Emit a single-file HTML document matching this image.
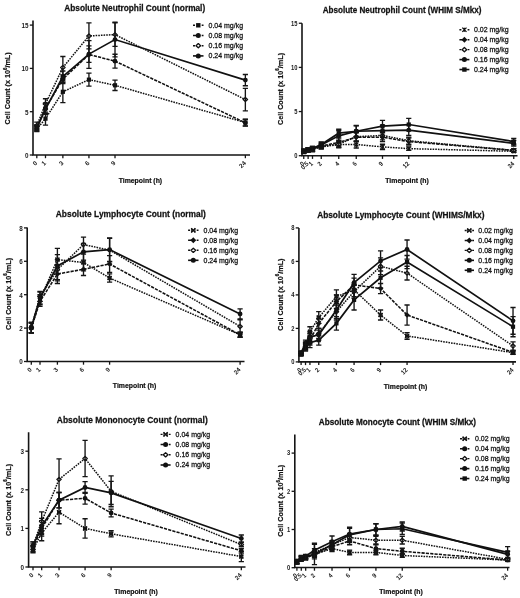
<!DOCTYPE html>
<html><head><meta charset="utf-8"><style>
html,body{margin:0;padding:0;background:#fff;}
svg{display:block;will-change:transform;}
text{font-family:"Liberation Sans", sans-serif;}
</style></head><body>
<svg width="520" height="598" viewBox="0 0 520 598" font-family='"Liberation Sans", sans-serif'>
<rect width="520" height="598" fill="#fff"/>
<path d="M33 20.5V155H250" fill="none" stroke="#151515" stroke-width="1.6"/>
<path d="M29.8 155H33" stroke="#151515" stroke-width="1.3"/>
<text transform="translate(28.5 157.86) scale(1 1.0)" text-anchor="end" font-size="6.3" font-weight="bold" fill="#1a1a1a">0</text>
<path d="M29.8 111.7H33" stroke="#151515" stroke-width="1.3"/>
<text transform="translate(28.5 114.56) scale(1 1.0)" text-anchor="end" font-size="6.3" font-weight="bold" fill="#1a1a1a">5</text>
<path d="M29.8 68.4H33" stroke="#151515" stroke-width="1.3"/>
<text transform="translate(28.5 71.26) scale(1 1.0)" text-anchor="end" font-size="6.3" font-weight="bold" fill="#1a1a1a">10</text>
<path d="M29.8 25.1H33" stroke="#151515" stroke-width="1.3"/>
<text transform="translate(28.5 27.96) scale(1 1.0)" text-anchor="end" font-size="6.3" font-weight="bold" fill="#1a1a1a">15</text>
<path d="M36.8 155V158.2" stroke="#151515" stroke-width="1.3"/>
<text transform="translate(37.8 163.5) rotate(-45) scale(1 1.0)" text-anchor="end" font-size="6.3" font-weight="bold" fill="#1a1a1a">0</text>
<path d="M45.49 155V158.2" stroke="#151515" stroke-width="1.3"/>
<text transform="translate(46.49 163.5) rotate(-45) scale(1 1.0)" text-anchor="end" font-size="6.3" font-weight="bold" fill="#1a1a1a">1</text>
<path d="M62.87 155V158.2" stroke="#151515" stroke-width="1.3"/>
<text transform="translate(63.87 163.5) rotate(-45) scale(1 1.0)" text-anchor="end" font-size="6.3" font-weight="bold" fill="#1a1a1a">3</text>
<path d="M88.94 155V158.2" stroke="#151515" stroke-width="1.3"/>
<text transform="translate(89.94 163.5) rotate(-45) scale(1 1.0)" text-anchor="end" font-size="6.3" font-weight="bold" fill="#1a1a1a">6</text>
<path d="M115.01 155V158.2" stroke="#151515" stroke-width="1.3"/>
<text transform="translate(116.01 163.5) rotate(-45) scale(1 1.0)" text-anchor="end" font-size="6.3" font-weight="bold" fill="#1a1a1a">9</text>
<path d="M245.36 155V158.2" stroke="#151515" stroke-width="1.3"/>
<text transform="translate(246.36 163.5) rotate(-45) scale(1 1.0)" text-anchor="end" font-size="6.3" font-weight="bold" fill="#1a1a1a">24</text>
<text transform="translate(134.75 10.6) scale(0.926 1)" text-anchor="middle" font-size="8.96" font-weight="bold" fill="#111" stroke="#111" stroke-width="0.25">Absolute Neutrophil Count (normal)</text>
<text transform="translate(140.4 182.5) scale(0.97 1.07)" text-anchor="middle" font-size="7.1" font-weight="bold" fill="#111" stroke="#111" stroke-width="0.2">Timepoint (h)</text>
<text transform="translate(10.1 88.4) rotate(-90) scale(0.925 1)" text-anchor="middle" font-size="7.8" font-weight="bold" fill="#111" stroke="#111" stroke-width="0.2">Cell Count (x 10<tspan font-size="4.84" dy="-3.4">6</tspan><tspan dy="3.4">/mL)</tspan></text>
<path d="M36.8 129.02L45.49 118.63L62.87 91.78L88.94 79.66L115.01 85.29L245.36 122.53" fill="none" stroke="#111" stroke-width="1.5" stroke-dasharray="1.6 1.05"/>
<rect x="34.7" y="126.92" width="4.2" height="4.2" fill="#111"/>
<rect x="43.39" y="116.53" width="4.2" height="4.2" fill="#111"/>
<rect x="60.77" y="89.68" width="4.2" height="4.2" fill="#111"/>
<rect x="86.84" y="77.56" width="4.2" height="4.2" fill="#111"/>
<rect x="112.91" y="83.19" width="4.2" height="4.2" fill="#111"/>
<rect x="243.26" y="120.43" width="4.2" height="4.2" fill="#111"/>
<path d="M36.8 126.42V131.62M34.2 126.42H39.4M34.2 131.62H39.4" stroke="#151515" stroke-width="1.35" fill="none"/>
<path d="M45.49 112.13V125.12M42.89 112.13H48.09M42.89 125.12H48.09" stroke="#151515" stroke-width="1.35" fill="none"/>
<path d="M62.87 80.87V102.69M60.27 80.87H65.47M60.27 102.69H65.47" stroke="#151515" stroke-width="1.35" fill="none"/>
<path d="M88.94 73.16V86.15M86.34 73.16H91.54M86.34 86.15H91.54" stroke="#151515" stroke-width="1.35" fill="none"/>
<path d="M115.01 80.09V90.48M112.41 80.09H117.61M112.41 90.48H117.61" stroke="#151515" stroke-width="1.35" fill="none"/>
<path d="M245.36 119.23V125.82M242.76 119.23H247.96M242.76 125.82H247.96" stroke="#151515" stroke-width="1.35" fill="none"/>
<path d="M36.8 127.29L45.49 108.24L62.87 79.14L88.94 54.54L115.01 61.13L245.36 122.78" fill="none" stroke="#111" stroke-width="1.55" stroke-dasharray="3.2 1.15"/>
<circle cx="36.8" cy="127.29" r="2.4" fill="#111"/>
<circle cx="45.49" cy="108.24" r="2.4" fill="#111"/>
<circle cx="62.87" cy="79.14" r="2.4" fill="#111"/>
<circle cx="88.94" cy="54.54" r="2.4" fill="#111"/>
<circle cx="115.01" cy="61.13" r="2.4" fill="#111"/>
<circle cx="245.36" cy="122.78" r="2.4" fill="#111"/>
<path d="M36.8 124.69V129.89M34.2 124.69H39.4M34.2 129.89H39.4" stroke="#151515" stroke-width="1.35" fill="none"/>
<path d="M45.49 103.04V113.43M42.89 103.04H48.09M42.89 113.43H48.09" stroke="#151515" stroke-width="1.35" fill="none"/>
<path d="M62.87 74.81V83.47M60.27 74.81H65.47M60.27 83.47H65.47" stroke="#151515" stroke-width="1.35" fill="none"/>
<path d="M88.94 40.69V68.4M86.34 40.69H91.54M86.34 68.4H91.54" stroke="#151515" stroke-width="1.35" fill="none"/>
<path d="M115.01 54.2V68.05M112.41 54.2H117.61M112.41 68.05H117.61" stroke="#151515" stroke-width="1.35" fill="none"/>
<path d="M245.36 119.49V126.08M242.76 119.49H247.96M242.76 126.08H247.96" stroke="#151515" stroke-width="1.35" fill="none"/>
<path d="M36.8 125.56L45.49 103.91L62.87 67.53L88.94 35.92L115.01 34.63L245.36 99.58" fill="none" stroke="#111" stroke-width="1.5" stroke-dasharray="1.6 1.05"/>
<path d="M36.8 123.56L39 125.56L36.8 127.56L34.6 125.56Z" fill="#fff" stroke="#111" stroke-width="1.3" stroke-linejoin="round"/>
<path d="M45.49 101.91L47.69 103.91L45.49 105.91L43.29 103.91Z" fill="#fff" stroke="#111" stroke-width="1.3" stroke-linejoin="round"/>
<path d="M62.87 65.53L65.07 67.53L62.87 69.53L60.67 67.53Z" fill="#fff" stroke="#111" stroke-width="1.3" stroke-linejoin="round"/>
<path d="M88.94 33.92L91.14 35.92L88.94 37.92L86.74 35.92Z" fill="#fff" stroke="#111" stroke-width="1.3" stroke-linejoin="round"/>
<path d="M115.01 32.63L117.21 34.63L115.01 36.63L112.81 34.63Z" fill="#fff" stroke="#111" stroke-width="1.3" stroke-linejoin="round"/>
<path d="M245.36 97.58L247.56 99.58L245.36 101.58L243.16 99.58Z" fill="#fff" stroke="#111" stroke-width="1.3" stroke-linejoin="round"/>
<path d="M36.8 122.09V129.02M34.2 122.09H39.4M34.2 129.02H39.4" stroke="#151515" stroke-width="1.35" fill="none"/>
<path d="M45.49 98.71V109.1M42.89 98.71H48.09M42.89 109.1H48.09" stroke="#151515" stroke-width="1.35" fill="none"/>
<path d="M62.87 56.54V78.53M60.27 56.54H65.47M60.27 78.53H65.47" stroke="#151515" stroke-width="1.35" fill="none"/>
<path d="M88.94 22.94V48.91M86.34 22.94H91.54M86.34 48.91H91.54" stroke="#151515" stroke-width="1.35" fill="none"/>
<path d="M115.01 22.85V46.4M112.41 22.85H117.61M112.41 46.4H117.61" stroke="#151515" stroke-width="1.35" fill="none"/>
<path d="M245.36 88.32V110.83M242.76 88.32H247.96M242.76 110.83H247.96" stroke="#151515" stroke-width="1.35" fill="none"/>
<path d="M36.8 128.15L45.49 109.1L62.87 76.63L88.94 54.11L115.01 39.56L245.36 80.09" fill="none" stroke="#111" stroke-width="1.7" />
<circle cx="36.8" cy="128.15" r="2.4" fill="#111"/>
<circle cx="45.49" cy="109.1" r="2.4" fill="#111"/>
<circle cx="62.87" cy="76.63" r="2.4" fill="#111"/>
<circle cx="88.94" cy="54.11" r="2.4" fill="#111"/>
<circle cx="115.01" cy="39.56" r="2.4" fill="#111"/>
<circle cx="245.36" cy="80.09" r="2.4" fill="#111"/>
<path d="M36.8 125.56V130.75M34.2 125.56H39.4M34.2 130.75H39.4" stroke="#151515" stroke-width="1.35" fill="none"/>
<path d="M45.49 103.91V114.3M42.89 103.91H48.09M42.89 114.3H48.09" stroke="#151515" stroke-width="1.35" fill="none"/>
<path d="M62.87 71V82.26M60.27 71H65.47M60.27 82.26H65.47" stroke="#151515" stroke-width="1.35" fill="none"/>
<path d="M88.94 45.88V62.34M86.34 45.88H91.54M86.34 62.34H91.54" stroke="#151515" stroke-width="1.35" fill="none"/>
<path d="M115.01 22.24V56.88M112.41 22.24H117.61M112.41 56.88H117.61" stroke="#151515" stroke-width="1.35" fill="none"/>
<path d="M245.36 74.46V85.72M242.76 74.46H247.96M242.76 85.72H247.96" stroke="#151515" stroke-width="1.35" fill="none"/>
<path d="M193 25.3H195M201.7 25.3H203.5" stroke="#111" stroke-width="1.4"/>
<rect x="196.09" y="23.09" width="4.41" height="4.41" fill="#111"/>
<text transform="translate(208.5 27.65) scale(1 1.12)" font-size="7.0" fill="#111" stroke="#111" stroke-width="0.25">0.04 mg/kg</text>
<path d="M193 35.5H198.3M201.7 35.5H203.5" stroke="#111" stroke-width="1.5"/>
<circle cx="198.3" cy="35.5" r="2.52" fill="#111"/>
<text transform="translate(208.5 37.85) scale(1 1.12)" font-size="7.0" fill="#111" stroke="#111" stroke-width="0.25">0.08 mg/kg</text>
<path d="M193 45.7H195M201.7 45.7H203.5" stroke="#111" stroke-width="1.4"/>
<path d="M198.3 43.6L200.61 45.7L198.3 47.8L195.99 45.7Z" fill="#fff" stroke="#111" stroke-width="1.3" stroke-linejoin="round"/>
<text transform="translate(208.5 48.05) scale(1 1.12)" font-size="7.0" fill="#111" stroke="#111" stroke-width="0.25">0.16 mg/kg</text>
<path d="M193 55.9H203.5" stroke="#111" stroke-width="1.6"/>
<circle cx="198.3" cy="55.9" r="2.52" fill="#111"/>
<text transform="translate(208.5 58.25) scale(1 1.12)" font-size="7.0" fill="#111" stroke="#111" stroke-width="0.25">0.24 mg/kg</text>
<path d="M302 23.2V155.7H517.5" fill="none" stroke="#151515" stroke-width="1.6"/>
<path d="M298.8 155.7H302" stroke="#151515" stroke-width="1.3"/>
<text transform="translate(297.5 158.03) scale(1 1.12)" text-anchor="end" font-size="5.8" font-weight="bold" fill="#1a1a1a">0</text>
<path d="M298.8 111.55H302" stroke="#151515" stroke-width="1.3"/>
<text transform="translate(297.5 113.88) scale(1 1.12)" text-anchor="end" font-size="5.8" font-weight="bold" fill="#1a1a1a">5</text>
<path d="M298.8 67.4H302" stroke="#151515" stroke-width="1.3"/>
<text transform="translate(297.5 69.73) scale(1 1.12)" text-anchor="end" font-size="5.8" font-weight="bold" fill="#1a1a1a">10</text>
<path d="M298.8 23.25H302" stroke="#151515" stroke-width="1.3"/>
<text transform="translate(297.5 25.58) scale(1 1.12)" text-anchor="end" font-size="5.8" font-weight="bold" fill="#1a1a1a">15</text>
<path d="M303.75 155.7V158.9" stroke="#151515" stroke-width="1.3"/>
<text transform="translate(304.75 164.2) rotate(-45) scale(1 1.12)" text-anchor="end" font-size="5.8" font-weight="bold" fill="#1a1a1a">0</text>
<path d="M308.12 155.7V158.9" stroke="#151515" stroke-width="1.3"/>
<text transform="translate(309.12 164.2) rotate(-45) scale(1 1.12)" text-anchor="end" font-size="5.8" font-weight="bold" fill="#1a1a1a">0.5</text>
<path d="M312.5 155.7V158.9" stroke="#151515" stroke-width="1.3"/>
<text transform="translate(313.5 164.2) rotate(-45) scale(1 1.12)" text-anchor="end" font-size="5.8" font-weight="bold" fill="#1a1a1a">1</text>
<path d="M321.25 155.7V158.9" stroke="#151515" stroke-width="1.3"/>
<text transform="translate(322.25 164.2) rotate(-45) scale(1 1.12)" text-anchor="end" font-size="5.8" font-weight="bold" fill="#1a1a1a">2</text>
<path d="M338.75 155.7V158.9" stroke="#151515" stroke-width="1.3"/>
<text transform="translate(339.75 164.2) rotate(-45) scale(1 1.12)" text-anchor="end" font-size="5.8" font-weight="bold" fill="#1a1a1a">4</text>
<path d="M356.25 155.7V158.9" stroke="#151515" stroke-width="1.3"/>
<text transform="translate(357.25 164.2) rotate(-45) scale(1 1.12)" text-anchor="end" font-size="5.8" font-weight="bold" fill="#1a1a1a">6</text>
<path d="M382.5 155.7V158.9" stroke="#151515" stroke-width="1.3"/>
<text transform="translate(383.5 164.2) rotate(-45) scale(1 1.12)" text-anchor="end" font-size="5.8" font-weight="bold" fill="#1a1a1a">9</text>
<path d="M408.75 155.7V158.9" stroke="#151515" stroke-width="1.3"/>
<text transform="translate(409.75 164.2) rotate(-45) scale(1 1.12)" text-anchor="end" font-size="5.8" font-weight="bold" fill="#1a1a1a">12</text>
<path d="M513.75 155.7V158.9" stroke="#151515" stroke-width="1.3"/>
<text transform="translate(514.75 164.2) rotate(-45) scale(1 1.12)" text-anchor="end" font-size="5.8" font-weight="bold" fill="#1a1a1a">24</text>
<text transform="translate(402 12.9) scale(0.926 1)" text-anchor="middle" font-size="8.75" font-weight="bold" fill="#111" stroke="#111" stroke-width="0.25">Absolute Neutrophil Count (WHIM S/Mkx)</text>
<text transform="translate(407 182.5) scale(0.97 1.07)" text-anchor="middle" font-size="7.1" font-weight="bold" fill="#111" stroke="#111" stroke-width="0.2">Timepoint (h)</text>
<text transform="translate(282.5 89) rotate(-90) scale(0.925 1)" text-anchor="middle" font-size="7.8" font-weight="bold" fill="#111" stroke="#111" stroke-width="0.2">Cell Count (x 10<tspan font-size="4.84" dy="-3.4">6</tspan><tspan dy="3.4">/mL)</tspan></text>
<path d="M303.75 151.73L308.12 150.4L312.5 149.52L321.25 146.87L338.75 144.66L356.25 144.49L382.5 146.87L408.75 148.64L513.75 151.28" fill="none" stroke="#111" stroke-width="1.5" stroke-dasharray="1.6 1.05"/>
<path d="M301.75 149.73L305.75 153.73M305.75 149.73L301.75 153.73M303.75 149.73L303.75 153.73" stroke="#111" stroke-width="1.3"/>
<path d="M306.12 148.4L310.12 152.4M310.12 148.4L306.12 152.4M308.12 148.4L308.12 152.4" stroke="#111" stroke-width="1.3"/>
<path d="M310.5 147.52L314.5 151.52M314.5 147.52L310.5 151.52M312.5 147.52L312.5 151.52" stroke="#111" stroke-width="1.3"/>
<path d="M319.25 144.87L323.25 148.87M323.25 144.87L319.25 148.87M321.25 144.87L321.25 148.87" stroke="#111" stroke-width="1.3"/>
<path d="M336.75 142.66L340.75 146.66M340.75 142.66L336.75 146.66M338.75 142.66L338.75 146.66" stroke="#111" stroke-width="1.3"/>
<path d="M354.25 142.49L358.25 146.49M358.25 142.49L354.25 146.49M356.25 142.49L356.25 146.49" stroke="#111" stroke-width="1.3"/>
<path d="M380.5 144.87L384.5 148.87M384.5 144.87L380.5 148.87M382.5 144.87L382.5 148.87" stroke="#111" stroke-width="1.3"/>
<path d="M406.75 146.64L410.75 150.64M410.75 146.64L406.75 150.64M408.75 146.64L408.75 150.64" stroke="#111" stroke-width="1.3"/>
<path d="M511.75 149.28L515.75 153.28M515.75 149.28L511.75 153.28M513.75 149.28L513.75 153.28" stroke="#111" stroke-width="1.3"/>
<path d="M303.75 149.96V153.49M301.15 149.96H306.35M301.15 153.49H306.35" stroke="#151515" stroke-width="1.35" fill="none"/>
<path d="M308.12 148.64V152.17M305.52 148.64H310.73M305.52 152.17H310.73" stroke="#151515" stroke-width="1.35" fill="none"/>
<path d="M312.5 147.31V151.73M309.9 147.31H315.1M309.9 151.73H315.1" stroke="#151515" stroke-width="1.35" fill="none"/>
<path d="M321.25 144.66V149.08M318.65 144.66H323.85M318.65 149.08H323.85" stroke="#151515" stroke-width="1.35" fill="none"/>
<path d="M338.75 142.01V147.31M336.15 142.01H341.35M336.15 147.31H341.35" stroke="#151515" stroke-width="1.35" fill="none"/>
<path d="M356.25 140.95V148.02M353.65 140.95H358.85M353.65 148.02H358.85" stroke="#151515" stroke-width="1.35" fill="none"/>
<path d="M382.5 144.22V149.52M379.9 144.22H385.1M379.9 149.52H385.1" stroke="#151515" stroke-width="1.35" fill="none"/>
<path d="M408.75 146.87V150.4M406.15 146.87H411.35M406.15 150.4H411.35" stroke="#151515" stroke-width="1.35" fill="none"/>
<path d="M513.75 150.4V152.17M511.15 150.4H516.35M511.15 152.17H516.35" stroke="#151515" stroke-width="1.35" fill="none"/>
<path d="M303.75 151.28L308.12 149.96L312.5 149.08L321.25 145.99L338.75 142.45L356.25 137.16L382.5 137.16L408.75 141.57L513.75 150.4" fill="none" stroke="#111" stroke-width="1.55" stroke-dasharray="3.2 1.15"/>
<path d="M303.75 148.48L306.55 151.28L303.75 154.09L300.95 151.28Z" fill="#111"/>
<path d="M308.12 147.16L310.93 149.96L308.12 152.76L305.32 149.96Z" fill="#111"/>
<path d="M312.5 146.28L315.3 149.08L312.5 151.88L309.7 149.08Z" fill="#111"/>
<path d="M321.25 143.19L324.05 145.99L321.25 148.79L318.45 145.99Z" fill="#111"/>
<path d="M338.75 139.65L341.55 142.45L338.75 145.25L335.95 142.45Z" fill="#111"/>
<path d="M356.25 134.36L359.05 137.16L356.25 139.96L353.45 137.16Z" fill="#111"/>
<path d="M382.5 134.36L385.3 137.16L382.5 139.96L379.7 137.16Z" fill="#111"/>
<path d="M408.75 138.77L411.55 141.57L408.75 144.37L405.95 141.57Z" fill="#111"/>
<path d="M513.75 147.6L516.55 150.4L513.75 153.2L510.95 150.4Z" fill="#111"/>
<path d="M303.75 149.52V153.05M301.15 149.52H306.35M301.15 153.05H306.35" stroke="#151515" stroke-width="1.35" fill="none"/>
<path d="M308.12 148.19V151.73M305.52 148.19H310.73M305.52 151.73H310.73" stroke="#151515" stroke-width="1.35" fill="none"/>
<path d="M312.5 146.87V151.28M309.9 146.87H315.1M309.9 151.28H315.1" stroke="#151515" stroke-width="1.35" fill="none"/>
<path d="M321.25 143.78V148.19M318.65 143.78H323.85M318.65 148.19H323.85" stroke="#151515" stroke-width="1.35" fill="none"/>
<path d="M338.75 138.92V145.99M336.15 138.92H341.35M336.15 145.99H341.35" stroke="#151515" stroke-width="1.35" fill="none"/>
<path d="M356.25 132.74V141.57M353.65 132.74H358.85M353.65 141.57H358.85" stroke="#151515" stroke-width="1.35" fill="none"/>
<path d="M382.5 132.74V141.57M379.9 132.74H385.1M379.9 141.57H385.1" stroke="#151515" stroke-width="1.35" fill="none"/>
<path d="M408.75 138.04V145.1M406.15 138.04H411.35M406.15 145.1H411.35" stroke="#151515" stroke-width="1.35" fill="none"/>
<path d="M513.75 148.64V152.17M511.15 148.64H516.35M511.15 152.17H516.35" stroke="#151515" stroke-width="1.35" fill="none"/>
<path d="M303.75 151.28L308.12 149.96L312.5 149.08L321.25 146.25L338.75 144.22L356.25 136.72L382.5 135.39L408.75 140.69L513.75 150.4" fill="none" stroke="#111" stroke-width="1.5" stroke-dasharray="1.6 1.05"/>
<path d="M303.75 149.28L305.95 151.28L303.75 153.28L301.55 151.28Z" fill="#fff" stroke="#111" stroke-width="1.3" stroke-linejoin="round"/>
<path d="M308.12 147.96L310.32 149.96L308.12 151.96L305.93 149.96Z" fill="#fff" stroke="#111" stroke-width="1.3" stroke-linejoin="round"/>
<path d="M312.5 147.08L314.7 149.08L312.5 151.08L310.3 149.08Z" fill="#fff" stroke="#111" stroke-width="1.3" stroke-linejoin="round"/>
<path d="M321.25 144.25L323.45 146.25L321.25 148.25L319.05 146.25Z" fill="#fff" stroke="#111" stroke-width="1.3" stroke-linejoin="round"/>
<path d="M338.75 142.22L340.95 144.22L338.75 146.22L336.55 144.22Z" fill="#fff" stroke="#111" stroke-width="1.3" stroke-linejoin="round"/>
<path d="M356.25 134.72L358.45 136.72L356.25 138.72L354.05 136.72Z" fill="#fff" stroke="#111" stroke-width="1.3" stroke-linejoin="round"/>
<path d="M382.5 133.39L384.7 135.39L382.5 137.39L380.3 135.39Z" fill="#fff" stroke="#111" stroke-width="1.3" stroke-linejoin="round"/>
<path d="M408.75 138.69L410.95 140.69L408.75 142.69L406.55 140.69Z" fill="#fff" stroke="#111" stroke-width="1.3" stroke-linejoin="round"/>
<path d="M513.75 148.4L515.95 150.4L513.75 152.4L511.55 150.4Z" fill="#fff" stroke="#111" stroke-width="1.3" stroke-linejoin="round"/>
<path d="M303.75 149.52V153.05M301.15 149.52H306.35M301.15 153.05H306.35" stroke="#151515" stroke-width="1.35" fill="none"/>
<path d="M308.12 148.19V151.73M305.52 148.19H310.73M305.52 151.73H310.73" stroke="#151515" stroke-width="1.35" fill="none"/>
<path d="M312.5 146.87V151.28M309.9 146.87H315.1M309.9 151.28H315.1" stroke="#151515" stroke-width="1.35" fill="none"/>
<path d="M321.25 144.04V148.46M318.65 144.04H323.85M318.65 148.46H323.85" stroke="#151515" stroke-width="1.35" fill="none"/>
<path d="M338.75 140.69V147.75M336.15 140.69H341.35M336.15 147.75H341.35" stroke="#151515" stroke-width="1.35" fill="none"/>
<path d="M356.25 132.3V141.13M353.65 132.3H358.85M353.65 141.13H358.85" stroke="#151515" stroke-width="1.35" fill="none"/>
<path d="M382.5 130.98V139.81M379.9 130.98H385.1M379.9 139.81H385.1" stroke="#151515" stroke-width="1.35" fill="none"/>
<path d="M408.75 137.16V144.22M406.15 137.16H411.35M406.15 144.22H411.35" stroke="#151515" stroke-width="1.35" fill="none"/>
<path d="M513.75 148.64V152.17M511.15 148.64H516.35M511.15 152.17H516.35" stroke="#151515" stroke-width="1.35" fill="none"/>
<path d="M303.75 151.28L308.12 149.52L312.5 148.64L321.25 145.1L338.75 135.83L356.25 131.24L382.5 130.53L408.75 130.09L513.75 143.34" fill="none" stroke="#111" stroke-width="1.7" />
<circle cx="303.75" cy="151.28" r="2.4" fill="#111"/>
<circle cx="308.12" cy="149.52" r="2.4" fill="#111"/>
<circle cx="312.5" cy="148.64" r="2.4" fill="#111"/>
<circle cx="321.25" cy="145.1" r="2.4" fill="#111"/>
<circle cx="338.75" cy="135.83" r="2.4" fill="#111"/>
<circle cx="356.25" cy="131.24" r="2.4" fill="#111"/>
<circle cx="382.5" cy="130.53" r="2.4" fill="#111"/>
<circle cx="408.75" cy="130.09" r="2.4" fill="#111"/>
<circle cx="513.75" cy="143.34" r="2.4" fill="#111"/>
<path d="M303.75 149.52V153.05M301.15 149.52H306.35M301.15 153.05H306.35" stroke="#151515" stroke-width="1.35" fill="none"/>
<path d="M308.12 147.75V151.28M305.52 147.75H310.73M305.52 151.28H310.73" stroke="#151515" stroke-width="1.35" fill="none"/>
<path d="M312.5 146.43V150.84M309.9 146.43H315.1M309.9 150.84H315.1" stroke="#151515" stroke-width="1.35" fill="none"/>
<path d="M321.25 142.45V147.75M318.65 142.45H323.85M318.65 147.75H323.85" stroke="#151515" stroke-width="1.35" fill="none"/>
<path d="M338.75 130.53V141.13M336.15 130.53H341.35M336.15 141.13H341.35" stroke="#151515" stroke-width="1.35" fill="none"/>
<path d="M356.25 125.94V136.54M353.65 125.94H358.85M353.65 136.54H358.85" stroke="#151515" stroke-width="1.35" fill="none"/>
<path d="M382.5 125.24V135.83M379.9 125.24H385.1M379.9 135.83H385.1" stroke="#151515" stroke-width="1.35" fill="none"/>
<path d="M408.75 124.79V135.39M406.15 124.79H411.35M406.15 135.39H411.35" stroke="#151515" stroke-width="1.35" fill="none"/>
<path d="M513.75 140.69V145.99M511.15 140.69H516.35M511.15 145.99H516.35" stroke="#151515" stroke-width="1.35" fill="none"/>
<path d="M303.75 150.84L308.12 149.52L312.5 148.64L321.25 144.49L338.75 133.18L356.25 131.24L382.5 126.12L408.75 124.53L513.75 141.57" fill="none" stroke="#111" stroke-width="1.7" />
<rect x="301.65" y="148.74" width="4.2" height="4.2" fill="#111"/>
<rect x="306.02" y="147.42" width="4.2" height="4.2" fill="#111"/>
<rect x="310.4" y="146.54" width="4.2" height="4.2" fill="#111"/>
<rect x="319.15" y="142.39" width="4.2" height="4.2" fill="#111"/>
<rect x="336.65" y="131.08" width="4.2" height="4.2" fill="#111"/>
<rect x="354.15" y="129.14" width="4.2" height="4.2" fill="#111"/>
<rect x="380.4" y="124.02" width="4.2" height="4.2" fill="#111"/>
<rect x="406.65" y="122.43" width="4.2" height="4.2" fill="#111"/>
<rect x="511.65" y="139.47" width="4.2" height="4.2" fill="#111"/>
<path d="M303.75 149.08V152.61M301.15 149.08H306.35M301.15 152.61H306.35" stroke="#151515" stroke-width="1.35" fill="none"/>
<path d="M308.12 147.75V151.28M305.52 147.75H310.73M305.52 151.28H310.73" stroke="#151515" stroke-width="1.35" fill="none"/>
<path d="M312.5 146.43V150.84M309.9 146.43H315.1M309.9 150.84H315.1" stroke="#151515" stroke-width="1.35" fill="none"/>
<path d="M321.25 141.84V147.13M318.65 141.84H323.85M318.65 147.13H323.85" stroke="#151515" stroke-width="1.35" fill="none"/>
<path d="M338.75 129.21V137.16M336.15 129.21H341.35M336.15 137.16H341.35" stroke="#151515" stroke-width="1.35" fill="none"/>
<path d="M356.25 125.5V136.98M353.65 125.5H358.85M353.65 136.98H358.85" stroke="#151515" stroke-width="1.35" fill="none"/>
<path d="M382.5 120.38V131.86M379.9 120.38H385.1M379.9 131.86H385.1" stroke="#151515" stroke-width="1.35" fill="none"/>
<path d="M408.75 118.35V130.71M406.15 118.35H411.35M406.15 130.71H411.35" stroke="#151515" stroke-width="1.35" fill="none"/>
<path d="M513.75 138.48V144.66M511.15 138.48H516.35M511.15 144.66H516.35" stroke="#151515" stroke-width="1.35" fill="none"/>
<path d="M459.4 29.75H461.4M467.6 29.75H469.4" stroke="#111" stroke-width="1.4"/>
<path d="M462.3 27.65L466.5 31.85M466.5 27.65L462.3 31.85M464.4 27.65L464.4 31.85" stroke="#111" stroke-width="1.3"/>
<text transform="translate(474 32.1) scale(1 1.12)" font-size="7.0" fill="#111" stroke="#111" stroke-width="0.25">0.02 mg/kg</text>
<path d="M459.4 39.7H464.4M467.6 39.7H469.4" stroke="#111" stroke-width="1.5"/>
<path d="M464.4 36.76L467.34 39.7L464.4 42.64L461.46 39.7Z" fill="#111"/>
<text transform="translate(474 42.05) scale(1 1.12)" font-size="7.0" fill="#111" stroke="#111" stroke-width="0.25">0.04 mg/kg</text>
<path d="M459.4 49.65H461.4M467.6 49.65H469.4" stroke="#111" stroke-width="1.4"/>
<path d="M464.4 47.55L466.71 49.65L464.4 51.75L462.09 49.65Z" fill="#fff" stroke="#111" stroke-width="1.3" stroke-linejoin="round"/>
<text transform="translate(474 52) scale(1 1.12)" font-size="7.0" fill="#111" stroke="#111" stroke-width="0.25">0.08 mg/kg</text>
<path d="M459.4 59.6H469.4" stroke="#111" stroke-width="1.6"/>
<circle cx="464.4" cy="59.6" r="2.52" fill="#111"/>
<text transform="translate(474 61.95) scale(1 1.12)" font-size="7.0" fill="#111" stroke="#111" stroke-width="0.25">0.16 mg/kg</text>
<path d="M459.4 69.55H469.4" stroke="#111" stroke-width="1.6"/>
<rect x="462.19" y="67.34" width="4.41" height="4.41" fill="#111"/>
<text transform="translate(474 71.9) scale(1 1.12)" font-size="7.0" fill="#111" stroke="#111" stroke-width="0.25">0.24 mg/kg</text>
<path d="M27.2 227.6V361.5H244.5" fill="none" stroke="#151515" stroke-width="1.6"/>
<path d="M24 361.5H27.2" stroke="#151515" stroke-width="1.3"/>
<text transform="translate(22.7 364.36) scale(1 1.0)" text-anchor="end" font-size="6.3" font-weight="bold" fill="#1a1a1a">0</text>
<path d="M24 328.1H27.2" stroke="#151515" stroke-width="1.3"/>
<text transform="translate(22.7 330.96) scale(1 1.0)" text-anchor="end" font-size="6.3" font-weight="bold" fill="#1a1a1a">2</text>
<path d="M24 294.7H27.2" stroke="#151515" stroke-width="1.3"/>
<text transform="translate(22.7 297.56) scale(1 1.0)" text-anchor="end" font-size="6.3" font-weight="bold" fill="#1a1a1a">4</text>
<path d="M24 261.3H27.2" stroke="#151515" stroke-width="1.3"/>
<text transform="translate(22.7 264.16) scale(1 1.0)" text-anchor="end" font-size="6.3" font-weight="bold" fill="#1a1a1a">6</text>
<path d="M24 227.9H27.2" stroke="#151515" stroke-width="1.3"/>
<text transform="translate(22.7 230.76) scale(1 1.0)" text-anchor="end" font-size="6.3" font-weight="bold" fill="#1a1a1a">8</text>
<path d="M31.3 361.5V364.7" stroke="#151515" stroke-width="1.3"/>
<text transform="translate(32.3 370) rotate(-45) scale(1 1.0)" text-anchor="end" font-size="6.3" font-weight="bold" fill="#1a1a1a">0</text>
<path d="M40 361.5V364.7" stroke="#151515" stroke-width="1.3"/>
<text transform="translate(41 370) rotate(-45) scale(1 1.0)" text-anchor="end" font-size="6.3" font-weight="bold" fill="#1a1a1a">1</text>
<path d="M57.4 361.5V364.7" stroke="#151515" stroke-width="1.3"/>
<text transform="translate(58.4 370) rotate(-45) scale(1 1.0)" text-anchor="end" font-size="6.3" font-weight="bold" fill="#1a1a1a">3</text>
<path d="M83.5 361.5V364.7" stroke="#151515" stroke-width="1.3"/>
<text transform="translate(84.5 370) rotate(-45) scale(1 1.0)" text-anchor="end" font-size="6.3" font-weight="bold" fill="#1a1a1a">6</text>
<path d="M109.6 361.5V364.7" stroke="#151515" stroke-width="1.3"/>
<text transform="translate(110.6 370) rotate(-45) scale(1 1.0)" text-anchor="end" font-size="6.3" font-weight="bold" fill="#1a1a1a">9</text>
<path d="M240.1 361.5V364.7" stroke="#151515" stroke-width="1.3"/>
<text transform="translate(241.1 370) rotate(-45) scale(1 1.0)" text-anchor="end" font-size="6.3" font-weight="bold" fill="#1a1a1a">24</text>
<text transform="translate(130.85 216.6) scale(0.926 1)" text-anchor="middle" font-size="9.09" font-weight="bold" fill="#111" stroke="#111" stroke-width="0.25">Absolute Lymphocyte Count (normal)</text>
<text transform="translate(134.6 388) scale(0.97 1.07)" text-anchor="middle" font-size="7.1" font-weight="bold" fill="#111" stroke="#111" stroke-width="0.2">Timepoint (h)</text>
<text transform="translate(10.5 294) rotate(-90) scale(0.925 1)" text-anchor="middle" font-size="7.8" font-weight="bold" fill="#111" stroke="#111" stroke-width="0.2">Cell Count (x 10<tspan font-size="4.84" dy="-3.4">6</tspan><tspan dy="3.4">/mL)</tspan></text>
<path d="M31.3 327.77L40 299.71L57.4 259.63L83.5 262.47L109.6 278L240.1 334.78" fill="none" stroke="#111" stroke-width="1.5" stroke-dasharray="1.6 1.05"/>
<path d="M29.3 325.77L33.3 329.77M33.3 325.77L29.3 329.77" stroke="#111" stroke-width="1.4"/><rect x="29.3" y="325.77" width="1" height="4" fill="#111"/><rect x="32.3" y="325.77" width="1" height="4" fill="#111"/>
<path d="M38 297.71L42 301.71M42 297.71L38 301.71" stroke="#111" stroke-width="1.4"/><rect x="38" y="297.71" width="1" height="4" fill="#111"/><rect x="41" y="297.71" width="1" height="4" fill="#111"/>
<path d="M55.4 257.63L59.4 261.63M59.4 257.63L55.4 261.63" stroke="#111" stroke-width="1.4"/><rect x="55.4" y="257.63" width="1" height="4" fill="#111"/><rect x="58.4" y="257.63" width="1" height="4" fill="#111"/>
<path d="M81.5 260.47L85.5 264.47M85.5 260.47L81.5 264.47" stroke="#111" stroke-width="1.4"/><rect x="81.5" y="260.47" width="1" height="4" fill="#111"/><rect x="84.5" y="260.47" width="1" height="4" fill="#111"/>
<path d="M107.6 276L111.6 280M111.6 276L107.6 280" stroke="#111" stroke-width="1.4"/><rect x="107.6" y="276" width="1" height="4" fill="#111"/><rect x="110.6" y="276" width="1" height="4" fill="#111"/>
<path d="M238.1 332.78L242.1 336.78M242.1 332.78L238.1 336.78" stroke="#111" stroke-width="1.4"/><rect x="238.1" y="332.78" width="1" height="4" fill="#111"/><rect x="241.1" y="332.78" width="1" height="4" fill="#111"/>
<path d="M31.3 322.76V332.78M28.7 322.76H33.9M28.7 332.78H33.9" stroke="#151515" stroke-width="1.35" fill="none"/>
<path d="M40 294.7V304.72M37.4 294.7H42.6M37.4 304.72H42.6" stroke="#151515" stroke-width="1.35" fill="none"/>
<path d="M57.4 254.62V264.64M54.8 254.62H60M54.8 264.64H60" stroke="#151515" stroke-width="1.35" fill="none"/>
<path d="M83.5 254.12V270.82M80.9 254.12H86.1M80.9 270.82H86.1" stroke="#151515" stroke-width="1.35" fill="none"/>
<path d="M109.6 273.82V282.18M107 273.82H112.2M107 282.18H112.2" stroke="#151515" stroke-width="1.35" fill="none"/>
<path d="M240.1 332.27V337.28M237.5 332.27H242.7M237.5 337.28H242.7" stroke="#151515" stroke-width="1.35" fill="none"/>
<path d="M31.3 328.1L40 301.38L57.4 273.99L83.5 269.32L109.6 263.97L240.1 334.78" fill="none" stroke="#111" stroke-width="1.55" stroke-dasharray="3.2 1.15"/>
<path d="M31.3 325.3L34.1 328.1L31.3 330.9L28.5 328.1Z" fill="#111"/>
<path d="M40 298.58L42.8 301.38L40 304.18L37.2 301.38Z" fill="#111"/>
<path d="M57.4 271.19L60.2 273.99L57.4 276.79L54.6 273.99Z" fill="#111"/>
<path d="M83.5 266.52L86.3 269.32L83.5 272.12L80.7 269.32Z" fill="#111"/>
<path d="M109.6 261.17L112.4 263.97L109.6 266.77L106.8 263.97Z" fill="#111"/>
<path d="M240.1 331.98L242.9 334.78L240.1 337.58L237.3 334.78Z" fill="#111"/>
<path d="M31.3 323.09V333.11M28.7 323.09H33.9M28.7 333.11H33.9" stroke="#151515" stroke-width="1.35" fill="none"/>
<path d="M40 296.37V306.39M37.4 296.37H42.6M37.4 306.39H42.6" stroke="#151515" stroke-width="1.35" fill="none"/>
<path d="M57.4 267.14V280.84M54.8 267.14H60M54.8 280.84H60" stroke="#151515" stroke-width="1.35" fill="none"/>
<path d="M83.5 263.14V275.5M80.9 263.14H86.1M80.9 275.5H86.1" stroke="#151515" stroke-width="1.35" fill="none"/>
<path d="M109.6 255.62V272.32M107 255.62H112.2M107 272.32H112.2" stroke="#151515" stroke-width="1.35" fill="none"/>
<path d="M240.1 332.27V337.28M237.5 332.27H242.7M237.5 337.28H242.7" stroke="#151515" stroke-width="1.35" fill="none"/>
<path d="M31.3 327.77L40 296.37L57.4 269.65L83.5 244.6L109.6 250.11L240.1 326.43" fill="none" stroke="#111" stroke-width="1.5" stroke-dasharray="1.6 1.05"/>
<path d="M31.3 325.77L33.5 327.77L31.3 329.77L29.1 327.77Z" fill="#fff" stroke="#111" stroke-width="1.3" stroke-linejoin="round"/>
<path d="M40 294.37L42.2 296.37L40 298.37L37.8 296.37Z" fill="#fff" stroke="#111" stroke-width="1.3" stroke-linejoin="round"/>
<path d="M57.4 267.65L59.6 269.65L57.4 271.65L55.2 269.65Z" fill="#fff" stroke="#111" stroke-width="1.3" stroke-linejoin="round"/>
<path d="M83.5 242.6L85.7 244.6L83.5 246.6L81.3 244.6Z" fill="#fff" stroke="#111" stroke-width="1.3" stroke-linejoin="round"/>
<path d="M109.6 248.11L111.8 250.11L109.6 252.11L107.4 250.11Z" fill="#fff" stroke="#111" stroke-width="1.3" stroke-linejoin="round"/>
<path d="M240.1 324.43L242.3 326.43L240.1 328.43L237.9 326.43Z" fill="#fff" stroke="#111" stroke-width="1.3" stroke-linejoin="round"/>
<path d="M31.3 322.76V332.78M28.7 322.76H33.9M28.7 332.78H33.9" stroke="#151515" stroke-width="1.35" fill="none"/>
<path d="M40 291.36V301.38M37.4 291.36H42.6M37.4 301.38H42.6" stroke="#151515" stroke-width="1.35" fill="none"/>
<path d="M57.4 259.63V279.67M54.8 259.63H60M54.8 279.67H60" stroke="#151515" stroke-width="1.35" fill="none"/>
<path d="M83.5 237.09V252.12M80.9 237.09H86.1M80.9 252.12H86.1" stroke="#151515" stroke-width="1.35" fill="none"/>
<path d="M109.6 238.42V261.8M107 238.42H112.2M107 261.8H112.2" stroke="#151515" stroke-width="1.35" fill="none"/>
<path d="M240.1 319.75V333.11M237.5 319.75H242.7M237.5 333.11H242.7" stroke="#151515" stroke-width="1.35" fill="none"/>
<path d="M31.3 327.43L40 298.04L57.4 265.98L83.5 251.78L109.6 249.61L240.1 313.9" fill="none" stroke="#111" stroke-width="1.7" />
<circle cx="31.3" cy="327.43" r="2.4" fill="#111"/>
<circle cx="40" cy="298.04" r="2.4" fill="#111"/>
<circle cx="57.4" cy="265.98" r="2.4" fill="#111"/>
<circle cx="83.5" cy="251.78" r="2.4" fill="#111"/>
<circle cx="109.6" cy="249.61" r="2.4" fill="#111"/>
<circle cx="240.1" cy="313.9" r="2.4" fill="#111"/>
<path d="M31.3 322.09V332.78M28.7 322.09H33.9M28.7 332.78H33.9" stroke="#151515" stroke-width="1.35" fill="none"/>
<path d="M40 292.19V303.88M37.4 292.19H42.6M37.4 303.88H42.6" stroke="#151515" stroke-width="1.35" fill="none"/>
<path d="M57.4 248.44V283.51M54.8 248.44H60M54.8 283.51H60" stroke="#151515" stroke-width="1.35" fill="none"/>
<path d="M83.5 243.43V260.13M80.9 243.43H86.1M80.9 260.13H86.1" stroke="#151515" stroke-width="1.35" fill="none"/>
<path d="M109.6 237.92V261.3M107 237.92H112.2M107 261.3H112.2" stroke="#151515" stroke-width="1.35" fill="none"/>
<path d="M240.1 308.89V318.92M237.5 308.89H242.7M237.5 318.92H242.7" stroke="#151515" stroke-width="1.35" fill="none"/>
<path d="M188.1 230.3H190.1M196.7 230.3H198.5" stroke="#111" stroke-width="1.4"/>
<path d="M191.2 228.2L195.4 232.4M195.4 228.2L191.2 232.4" stroke="#111" stroke-width="1.4"/><rect x="191.2" y="228.2" width="1" height="4.2" fill="#111"/><rect x="194.4" y="228.2" width="1" height="4.2" fill="#111"/>
<text transform="translate(203.5 232.65) scale(1 1.12)" font-size="7.0" fill="#111" stroke="#111" stroke-width="0.25">0.04 mg/kg</text>
<path d="M188.1 240.3H193.3M196.7 240.3H198.5" stroke="#111" stroke-width="1.5"/>
<path d="M193.3 237.36L196.24 240.3L193.3 243.24L190.36 240.3Z" fill="#111"/>
<text transform="translate(203.5 242.65) scale(1 1.12)" font-size="7.0" fill="#111" stroke="#111" stroke-width="0.25">0.08 mg/kg</text>
<path d="M188.1 250.3H190.1M196.7 250.3H198.5" stroke="#111" stroke-width="1.4"/>
<path d="M193.3 248.2L195.61 250.3L193.3 252.4L190.99 250.3Z" fill="#fff" stroke="#111" stroke-width="1.3" stroke-linejoin="round"/>
<text transform="translate(203.5 252.65) scale(1 1.12)" font-size="7.0" fill="#111" stroke="#111" stroke-width="0.25">0.16 mg/kg</text>
<path d="M188.1 260.3H198.5" stroke="#111" stroke-width="1.6"/>
<circle cx="193.3" cy="260.3" r="2.52" fill="#111"/>
<text transform="translate(203.5 262.65) scale(1 1.12)" font-size="7.0" fill="#111" stroke="#111" stroke-width="0.25">0.24 mg/kg</text>
<path d="M298.9 228V361.9H516" fill="none" stroke="#151515" stroke-width="1.6"/>
<path d="M295.7 361.9H298.9" stroke="#151515" stroke-width="1.3"/>
<text transform="translate(294.4 364.23) scale(1 1.12)" text-anchor="end" font-size="5.8" font-weight="bold" fill="#1a1a1a">0</text>
<path d="M295.7 328.4H298.9" stroke="#151515" stroke-width="1.3"/>
<text transform="translate(294.4 330.73) scale(1 1.12)" text-anchor="end" font-size="5.8" font-weight="bold" fill="#1a1a1a">2</text>
<path d="M295.7 294.9H298.9" stroke="#151515" stroke-width="1.3"/>
<text transform="translate(294.4 297.23) scale(1 1.12)" text-anchor="end" font-size="5.8" font-weight="bold" fill="#1a1a1a">4</text>
<path d="M295.7 261.4H298.9" stroke="#151515" stroke-width="1.3"/>
<text transform="translate(294.4 263.73) scale(1 1.12)" text-anchor="end" font-size="5.8" font-weight="bold" fill="#1a1a1a">6</text>
<path d="M295.7 227.9H298.9" stroke="#151515" stroke-width="1.3"/>
<text transform="translate(294.4 230.23) scale(1 1.12)" text-anchor="end" font-size="5.8" font-weight="bold" fill="#1a1a1a">8</text>
<path d="M301.1 361.9V365.1" stroke="#151515" stroke-width="1.3"/>
<text transform="translate(302.1 370.4) rotate(-45) scale(1 1.12)" text-anchor="end" font-size="5.8" font-weight="bold" fill="#1a1a1a">0</text>
<path d="M305.52 361.9V365.1" stroke="#151515" stroke-width="1.3"/>
<text transform="translate(306.52 370.4) rotate(-45) scale(1 1.12)" text-anchor="end" font-size="5.8" font-weight="bold" fill="#1a1a1a">0.5</text>
<path d="M309.93 361.9V365.1" stroke="#151515" stroke-width="1.3"/>
<text transform="translate(310.93 370.4) rotate(-45) scale(1 1.12)" text-anchor="end" font-size="5.8" font-weight="bold" fill="#1a1a1a">1</text>
<path d="M318.76 361.9V365.1" stroke="#151515" stroke-width="1.3"/>
<text transform="translate(319.76 370.4) rotate(-45) scale(1 1.12)" text-anchor="end" font-size="5.8" font-weight="bold" fill="#1a1a1a">2</text>
<path d="M336.42 361.9V365.1" stroke="#151515" stroke-width="1.3"/>
<text transform="translate(337.42 370.4) rotate(-45) scale(1 1.12)" text-anchor="end" font-size="5.8" font-weight="bold" fill="#1a1a1a">4</text>
<path d="M354.08 361.9V365.1" stroke="#151515" stroke-width="1.3"/>
<text transform="translate(355.08 370.4) rotate(-45) scale(1 1.12)" text-anchor="end" font-size="5.8" font-weight="bold" fill="#1a1a1a">6</text>
<path d="M380.57 361.9V365.1" stroke="#151515" stroke-width="1.3"/>
<text transform="translate(381.57 370.4) rotate(-45) scale(1 1.12)" text-anchor="end" font-size="5.8" font-weight="bold" fill="#1a1a1a">9</text>
<path d="M407.06 361.9V365.1" stroke="#151515" stroke-width="1.3"/>
<text transform="translate(408.06 370.4) rotate(-45) scale(1 1.12)" text-anchor="end" font-size="5.8" font-weight="bold" fill="#1a1a1a">12</text>
<path d="M513.02 361.9V365.1" stroke="#151515" stroke-width="1.3"/>
<text transform="translate(514.02 370.4) rotate(-45) scale(1 1.12)" text-anchor="end" font-size="5.8" font-weight="bold" fill="#1a1a1a">24</text>
<text transform="translate(400.85 217.6) scale(0.926 1)" text-anchor="middle" font-size="8.97" font-weight="bold" fill="#111" stroke="#111" stroke-width="0.25">Absolute Lymphocyte Count (WHIMS/Mkx)</text>
<text transform="translate(405.5 388.5) scale(0.97 1.07)" text-anchor="middle" font-size="7.1" font-weight="bold" fill="#111" stroke="#111" stroke-width="0.2">Timepoint (h)</text>
<text transform="translate(282.5 294.6) rotate(-90) scale(0.925 1)" text-anchor="middle" font-size="7.8" font-weight="bold" fill="#111" stroke="#111" stroke-width="0.2">Cell Count (x 10<tspan font-size="4.84" dy="-3.4">6</tspan><tspan dy="3.4">/mL)</tspan></text>
<path d="M301.1 353.52L305.52 345.15L309.93 331.75L318.76 317.51L336.42 296.57L354.08 289.88L380.57 315L407.06 335.94L513.02 352.69" fill="none" stroke="#111" stroke-width="1.5" stroke-dasharray="1.6 1.05"/>
<path d="M299.1 351.52L303.1 355.52M303.1 351.52L299.1 355.52" stroke="#111" stroke-width="1.4"/><rect x="299.1" y="351.52" width="1" height="4" fill="#111"/><rect x="302.1" y="351.52" width="1" height="4" fill="#111"/>
<path d="M303.52 343.15L307.52 347.15M307.52 343.15L303.52 347.15" stroke="#111" stroke-width="1.4"/><rect x="303.52" y="343.15" width="1" height="4" fill="#111"/><rect x="306.52" y="343.15" width="1" height="4" fill="#111"/>
<path d="M307.93 329.75L311.93 333.75M311.93 329.75L307.93 333.75" stroke="#111" stroke-width="1.4"/><rect x="307.93" y="329.75" width="1" height="4" fill="#111"/><rect x="310.93" y="329.75" width="1" height="4" fill="#111"/>
<path d="M316.76 315.51L320.76 319.51M320.76 315.51L316.76 319.51" stroke="#111" stroke-width="1.4"/><rect x="316.76" y="315.51" width="1" height="4" fill="#111"/><rect x="319.76" y="315.51" width="1" height="4" fill="#111"/>
<path d="M334.42 294.57L338.42 298.57M338.42 294.57L334.42 298.57" stroke="#111" stroke-width="1.4"/><rect x="334.42" y="294.57" width="1" height="4" fill="#111"/><rect x="337.42" y="294.57" width="1" height="4" fill="#111"/>
<path d="M352.08 287.88L356.08 291.88M356.08 287.88L352.08 291.88" stroke="#111" stroke-width="1.4"/><rect x="352.08" y="287.88" width="1" height="4" fill="#111"/><rect x="355.08" y="287.88" width="1" height="4" fill="#111"/>
<path d="M378.57 313L382.57 317M382.57 313L378.57 317" stroke="#111" stroke-width="1.4"/><rect x="378.57" y="313" width="1" height="4" fill="#111"/><rect x="381.57" y="313" width="1" height="4" fill="#111"/>
<path d="M405.06 333.94L409.06 337.94M409.06 333.94L405.06 337.94" stroke="#111" stroke-width="1.4"/><rect x="405.06" y="333.94" width="1" height="4" fill="#111"/><rect x="408.06" y="333.94" width="1" height="4" fill="#111"/>
<path d="M511.02 350.69L515.02 354.69M515.02 350.69L511.02 354.69" stroke="#111" stroke-width="1.4"/><rect x="511.02" y="350.69" width="1" height="4" fill="#111"/><rect x="514.02" y="350.69" width="1" height="4" fill="#111"/>
<path d="M301.1 351.85V355.2M298.5 351.85H303.7M298.5 355.2H303.7" stroke="#151515" stroke-width="1.35" fill="none"/>
<path d="M305.52 341.8V348.5M302.92 341.8H308.12M302.92 348.5H308.12" stroke="#151515" stroke-width="1.35" fill="none"/>
<path d="M309.93 326.72V336.77M307.33 326.72H312.53M307.33 336.77H312.53" stroke="#151515" stroke-width="1.35" fill="none"/>
<path d="M318.76 311.65V323.38M316.16 311.65H321.36M316.16 323.38H321.36" stroke="#151515" stroke-width="1.35" fill="none"/>
<path d="M336.42 289.88V303.27M333.82 289.88H339.02M333.82 303.27H339.02" stroke="#151515" stroke-width="1.35" fill="none"/>
<path d="M354.08 283.17V296.57M351.48 283.17H356.68M351.48 296.57H356.68" stroke="#151515" stroke-width="1.35" fill="none"/>
<path d="M380.57 309.97V320.02M377.97 309.97H383.17M377.97 320.02H383.17" stroke="#151515" stroke-width="1.35" fill="none"/>
<path d="M407.06 332.59V339.29M404.46 332.59H409.66M404.46 339.29H409.66" stroke="#151515" stroke-width="1.35" fill="none"/>
<path d="M513.02 351.01V354.36M510.42 351.01H515.62M510.42 354.36H515.62" stroke="#151515" stroke-width="1.35" fill="none"/>
<path d="M301.1 353.52L305.52 345.99L309.93 340.12L318.76 323.38L336.42 301.6L354.08 284.85L380.57 288.53L407.06 315L513.02 352.35" fill="none" stroke="#111" stroke-width="1.55" stroke-dasharray="3.2 1.15"/>
<path d="M301.1 350.72L303.9 353.52L301.1 356.32L298.3 353.52Z" fill="#111"/>
<path d="M305.52 343.19L308.32 345.99L305.52 348.79L302.72 345.99Z" fill="#111"/>
<path d="M309.93 337.32L312.73 340.12L309.93 342.93L307.13 340.12Z" fill="#111"/>
<path d="M318.76 320.57L321.56 323.38L318.76 326.18L315.96 323.38Z" fill="#111"/>
<path d="M336.42 298.8L339.22 301.6L336.42 304.4L333.62 301.6Z" fill="#111"/>
<path d="M354.08 282.05L356.88 284.85L354.08 287.65L351.28 284.85Z" fill="#111"/>
<path d="M380.57 285.73L383.37 288.53L380.57 291.33L377.77 288.53Z" fill="#111"/>
<path d="M407.06 312.2L409.86 315L407.06 317.8L404.26 315Z" fill="#111"/>
<path d="M513.02 349.55L515.82 352.35L513.02 355.15L510.22 352.35Z" fill="#111"/>
<path d="M301.1 351.85V355.2M298.5 351.85H303.7M298.5 355.2H303.7" stroke="#151515" stroke-width="1.35" fill="none"/>
<path d="M305.52 342.64V349.34M302.92 342.64H308.12M302.92 349.34H308.12" stroke="#151515" stroke-width="1.35" fill="none"/>
<path d="M309.93 335.1V345.15M307.33 335.1H312.53M307.33 345.15H312.53" stroke="#151515" stroke-width="1.35" fill="none"/>
<path d="M318.76 318.35V328.4M316.16 318.35H321.36M316.16 328.4H321.36" stroke="#151515" stroke-width="1.35" fill="none"/>
<path d="M336.42 294.9V308.3M333.82 294.9H339.02M333.82 308.3H339.02" stroke="#151515" stroke-width="1.35" fill="none"/>
<path d="M354.08 278.15V291.55M351.48 278.15H356.68M351.48 291.55H356.68" stroke="#151515" stroke-width="1.35" fill="none"/>
<path d="M380.57 283.51V293.56M377.97 283.51H383.17M377.97 293.56H383.17" stroke="#151515" stroke-width="1.35" fill="none"/>
<path d="M407.06 304.95V325.05M404.46 304.95H409.66M404.46 325.05H409.66" stroke="#151515" stroke-width="1.35" fill="none"/>
<path d="M513.02 350.68V354.03M510.42 350.68H515.62M510.42 354.03H515.62" stroke="#151515" stroke-width="1.35" fill="none"/>
<path d="M301.1 353.52L305.52 346.82L309.93 338.45L318.76 333.42L336.42 311.65L354.08 291.55L380.57 266.26L407.06 273.12L513.02 345.99" fill="none" stroke="#111" stroke-width="1.5" stroke-dasharray="1.6 1.05"/>
<path d="M301.1 351.52L303.3 353.52L301.1 355.52L298.9 353.52Z" fill="#fff" stroke="#111" stroke-width="1.3" stroke-linejoin="round"/>
<path d="M305.52 344.82L307.72 346.82L305.52 348.82L303.32 346.82Z" fill="#fff" stroke="#111" stroke-width="1.3" stroke-linejoin="round"/>
<path d="M309.93 336.45L312.13 338.45L309.93 340.45L307.73 338.45Z" fill="#fff" stroke="#111" stroke-width="1.3" stroke-linejoin="round"/>
<path d="M318.76 331.42L320.96 333.42L318.76 335.42L316.56 333.42Z" fill="#fff" stroke="#111" stroke-width="1.3" stroke-linejoin="round"/>
<path d="M336.42 309.65L338.62 311.65L336.42 313.65L334.22 311.65Z" fill="#fff" stroke="#111" stroke-width="1.3" stroke-linejoin="round"/>
<path d="M354.08 289.55L356.28 291.55L354.08 293.55L351.88 291.55Z" fill="#fff" stroke="#111" stroke-width="1.3" stroke-linejoin="round"/>
<path d="M380.57 264.26L382.77 266.26L380.57 268.26L378.37 266.26Z" fill="#fff" stroke="#111" stroke-width="1.3" stroke-linejoin="round"/>
<path d="M407.06 271.12L409.26 273.12L407.06 275.12L404.86 273.12Z" fill="#fff" stroke="#111" stroke-width="1.3" stroke-linejoin="round"/>
<path d="M513.02 343.99L515.22 345.99L513.02 347.99L510.82 345.99Z" fill="#fff" stroke="#111" stroke-width="1.3" stroke-linejoin="round"/>
<path d="M301.1 351.85V355.2M298.5 351.85H303.7M298.5 355.2H303.7" stroke="#151515" stroke-width="1.35" fill="none"/>
<path d="M305.52 343.47V350.17M302.92 343.47H308.12M302.92 350.17H308.12" stroke="#151515" stroke-width="1.35" fill="none"/>
<path d="M309.93 333.42V343.47M307.33 333.42H312.53M307.33 343.47H312.53" stroke="#151515" stroke-width="1.35" fill="none"/>
<path d="M318.76 328.4V338.45M316.16 328.4H321.36M316.16 338.45H321.36" stroke="#151515" stroke-width="1.35" fill="none"/>
<path d="M336.42 304.95V318.35M333.82 304.95H339.02M333.82 318.35H339.02" stroke="#151515" stroke-width="1.35" fill="none"/>
<path d="M354.08 284.85V298.25M351.48 284.85H356.68M351.48 298.25H356.68" stroke="#151515" stroke-width="1.35" fill="none"/>
<path d="M380.57 257.88V274.63M377.97 257.88H383.17M377.97 274.63H383.17" stroke="#151515" stroke-width="1.35" fill="none"/>
<path d="M407.06 266.26V279.99M404.46 266.26H409.66M404.46 279.99H409.66" stroke="#151515" stroke-width="1.35" fill="none"/>
<path d="M513.02 341.8V350.17M510.42 341.8H515.62M510.42 350.17H515.62" stroke="#151515" stroke-width="1.35" fill="none"/>
<path d="M301.1 352.69L305.52 343.47L309.93 336.77L318.76 335.1L336.42 309.97L354.08 282.67L380.57 260.9L407.06 249.51L513.02 320.86" fill="none" stroke="#111" stroke-width="1.7" />
<circle cx="301.1" cy="352.69" r="2.4" fill="#111"/>
<circle cx="305.52" cy="343.47" r="2.4" fill="#111"/>
<circle cx="309.93" cy="336.77" r="2.4" fill="#111"/>
<circle cx="318.76" cy="335.1" r="2.4" fill="#111"/>
<circle cx="336.42" cy="309.97" r="2.4" fill="#111"/>
<circle cx="354.08" cy="282.67" r="2.4" fill="#111"/>
<circle cx="380.57" cy="260.9" r="2.4" fill="#111"/>
<circle cx="407.06" cy="249.51" r="2.4" fill="#111"/>
<circle cx="513.02" cy="320.86" r="2.4" fill="#111"/>
<path d="M301.1 351.01V354.36M298.5 351.01H303.7M298.5 354.36H303.7" stroke="#151515" stroke-width="1.35" fill="none"/>
<path d="M305.52 340.12V346.82M302.92 340.12H308.12M302.92 346.82H308.12" stroke="#151515" stroke-width="1.35" fill="none"/>
<path d="M309.93 331.75V341.8M307.33 331.75H312.53M307.33 341.8H312.53" stroke="#151515" stroke-width="1.35" fill="none"/>
<path d="M318.76 330.07V340.12M316.16 330.07H321.36M316.16 340.12H321.36" stroke="#151515" stroke-width="1.35" fill="none"/>
<path d="M336.42 299.92V320.02M333.82 299.92H339.02M333.82 320.02H339.02" stroke="#151515" stroke-width="1.35" fill="none"/>
<path d="M354.08 274.3V291.05M351.48 274.3H356.68M351.48 291.05H356.68" stroke="#151515" stroke-width="1.35" fill="none"/>
<path d="M380.57 250.85V270.95M377.97 250.85H383.17M377.97 270.95H383.17" stroke="#151515" stroke-width="1.35" fill="none"/>
<path d="M407.06 239.96V259.05M404.46 239.96H409.66M404.46 259.05H409.66" stroke="#151515" stroke-width="1.35" fill="none"/>
<path d="M513.02 307.46V334.26M510.42 307.46H515.62M510.42 334.26H515.62" stroke="#151515" stroke-width="1.35" fill="none"/>
<path d="M301.1 354.36L305.52 347.66L309.93 342.64L318.76 340.12L336.42 323.38L354.08 299.92L380.57 277.81L407.06 262.07L513.02 326.72" fill="none" stroke="#111" stroke-width="1.7" />
<rect x="299" y="352.26" width="4.2" height="4.2" fill="#111"/>
<rect x="303.42" y="345.56" width="4.2" height="4.2" fill="#111"/>
<rect x="307.83" y="340.54" width="4.2" height="4.2" fill="#111"/>
<rect x="316.66" y="338.02" width="4.2" height="4.2" fill="#111"/>
<rect x="334.32" y="321.27" width="4.2" height="4.2" fill="#111"/>
<rect x="351.98" y="297.82" width="4.2" height="4.2" fill="#111"/>
<rect x="378.47" y="275.71" width="4.2" height="4.2" fill="#111"/>
<rect x="404.96" y="259.97" width="4.2" height="4.2" fill="#111"/>
<rect x="510.92" y="324.62" width="4.2" height="4.2" fill="#111"/>
<path d="M301.1 352.69V356.04M298.5 352.69H303.7M298.5 356.04H303.7" stroke="#151515" stroke-width="1.35" fill="none"/>
<path d="M305.52 344.31V351.01M302.92 344.31H308.12M302.92 351.01H308.12" stroke="#151515" stroke-width="1.35" fill="none"/>
<path d="M309.93 337.61V347.66M307.33 337.61H312.53M307.33 347.66H312.53" stroke="#151515" stroke-width="1.35" fill="none"/>
<path d="M318.76 335.1V345.15M316.16 335.1H321.36M316.16 345.15H321.36" stroke="#151515" stroke-width="1.35" fill="none"/>
<path d="M336.42 316.67V330.07M333.82 316.67H339.02M333.82 330.07H339.02" stroke="#151515" stroke-width="1.35" fill="none"/>
<path d="M354.08 289.88V309.97M351.48 289.88H356.68M351.48 309.97H356.68" stroke="#151515" stroke-width="1.35" fill="none"/>
<path d="M380.57 267.76V287.87M377.97 267.76H383.17M377.97 287.87H383.17" stroke="#151515" stroke-width="1.35" fill="none"/>
<path d="M407.06 255.54V268.6M404.46 255.54H409.66M404.46 268.6H409.66" stroke="#151515" stroke-width="1.35" fill="none"/>
<path d="M513.02 316.67V336.77M510.42 316.67H515.62M510.42 336.77H515.62" stroke="#151515" stroke-width="1.35" fill="none"/>
<path d="M464.7 230.5H466.7M472.2 230.5H474" stroke="#111" stroke-width="1.4"/>
<path d="M467.2 228.4L471.4 232.6M471.4 228.4L467.2 232.6" stroke="#111" stroke-width="1.4"/><rect x="467.2" y="228.4" width="1" height="4.2" fill="#111"/><rect x="470.4" y="228.4" width="1" height="4.2" fill="#111"/>
<text transform="translate(478.3 232.85) scale(1 1.12)" font-size="7.0" fill="#111" stroke="#111" stroke-width="0.25">0.02 mg/kg</text>
<path d="M464.7 240.45H469.3M472.2 240.45H474" stroke="#111" stroke-width="1.5"/>
<path d="M469.3 237.51L472.24 240.45L469.3 243.39L466.36 240.45Z" fill="#111"/>
<text transform="translate(478.3 242.8) scale(1 1.12)" font-size="7.0" fill="#111" stroke="#111" stroke-width="0.25">0.04 mg/kg</text>
<path d="M464.7 250.4H466.7M472.2 250.4H474" stroke="#111" stroke-width="1.4"/>
<path d="M469.3 248.3L471.61 250.4L469.3 252.5L466.99 250.4Z" fill="#fff" stroke="#111" stroke-width="1.3" stroke-linejoin="round"/>
<text transform="translate(478.3 252.75) scale(1 1.12)" font-size="7.0" fill="#111" stroke="#111" stroke-width="0.25">0.08 mg/kg</text>
<path d="M464.7 260.35H474" stroke="#111" stroke-width="1.6"/>
<circle cx="469.3" cy="260.35" r="2.52" fill="#111"/>
<text transform="translate(478.3 262.7) scale(1 1.12)" font-size="7.0" fill="#111" stroke="#111" stroke-width="0.25">0.16 mg/kg</text>
<path d="M464.7 270.3H474" stroke="#111" stroke-width="1.6"/>
<rect x="467.1" y="268.1" width="4.41" height="4.41" fill="#111"/>
<text transform="translate(478.3 272.65) scale(1 1.12)" font-size="7.0" fill="#111" stroke="#111" stroke-width="0.25">0.24 mg/kg</text>
<path d="M28.6 432.3V567H245.5" fill="none" stroke="#151515" stroke-width="1.6"/>
<path d="M25.4 567H28.6" stroke="#151515" stroke-width="1.3"/>
<text transform="translate(24.1 569.86) scale(1 1.0)" text-anchor="end" font-size="6.3" font-weight="bold" fill="#1a1a1a">0</text>
<path d="M25.4 528.4H28.6" stroke="#151515" stroke-width="1.3"/>
<text transform="translate(24.1 531.26) scale(1 1.0)" text-anchor="end" font-size="6.3" font-weight="bold" fill="#1a1a1a">1</text>
<path d="M25.4 489.8H28.6" stroke="#151515" stroke-width="1.3"/>
<text transform="translate(24.1 492.66) scale(1 1.0)" text-anchor="end" font-size="6.3" font-weight="bold" fill="#1a1a1a">2</text>
<path d="M25.4 451.2H28.6" stroke="#151515" stroke-width="1.3"/>
<text transform="translate(24.1 454.06) scale(1 1.0)" text-anchor="end" font-size="6.3" font-weight="bold" fill="#1a1a1a">3</text>
<path d="M33 567V570.2" stroke="#151515" stroke-width="1.3"/>
<text transform="translate(34 575.5) rotate(-45) scale(1 1.0)" text-anchor="end" font-size="6.3" font-weight="bold" fill="#1a1a1a">0</text>
<path d="M41.68 567V570.2" stroke="#151515" stroke-width="1.3"/>
<text transform="translate(42.68 575.5) rotate(-45) scale(1 1.0)" text-anchor="end" font-size="6.3" font-weight="bold" fill="#1a1a1a">1</text>
<path d="M59.04 567V570.2" stroke="#151515" stroke-width="1.3"/>
<text transform="translate(60.04 575.5) rotate(-45) scale(1 1.0)" text-anchor="end" font-size="6.3" font-weight="bold" fill="#1a1a1a">3</text>
<path d="M85.08 567V570.2" stroke="#151515" stroke-width="1.3"/>
<text transform="translate(86.08 575.5) rotate(-45) scale(1 1.0)" text-anchor="end" font-size="6.3" font-weight="bold" fill="#1a1a1a">6</text>
<path d="M111.12 567V570.2" stroke="#151515" stroke-width="1.3"/>
<text transform="translate(112.12 575.5) rotate(-45) scale(1 1.0)" text-anchor="end" font-size="6.3" font-weight="bold" fill="#1a1a1a">9</text>
<path d="M241.32 567V570.2" stroke="#151515" stroke-width="1.3"/>
<text transform="translate(242.32 575.5) rotate(-45) scale(1 1.0)" text-anchor="end" font-size="6.3" font-weight="bold" fill="#1a1a1a">24</text>
<text transform="translate(132.25 423.2) scale(0.926 1)" text-anchor="middle" font-size="9.13" font-weight="bold" fill="#111" stroke="#111" stroke-width="0.25">Absolute Mononocyte Count (normal)</text>
<text transform="translate(136 593.5) scale(0.97 1.07)" text-anchor="middle" font-size="7.1" font-weight="bold" fill="#111" stroke="#111" stroke-width="0.2">Timepoint (h)</text>
<text transform="translate(10.5 500) rotate(-90) scale(0.925 1)" text-anchor="middle" font-size="7.8" font-weight="bold" fill="#111" stroke="#111" stroke-width="0.2">Cell Count (x 10<tspan font-size="4.84" dy="-3.4">6</tspan><tspan dy="3.4">/mL)</tspan></text>
<path d="M33 549.63L41.68 533.03L59.04 512.19L85.08 528.4L111.12 533.8L241.32 556.58" fill="none" stroke="#111" stroke-width="1.5" stroke-dasharray="1.6 1.05"/>
<path d="M31 547.63L35 551.63M35 547.63L31 551.63" stroke="#111" stroke-width="1.4"/><rect x="31" y="547.63" width="1" height="4" fill="#111"/><rect x="34" y="547.63" width="1" height="4" fill="#111"/>
<path d="M39.68 531.03L43.68 535.03M43.68 531.03L39.68 535.03" stroke="#111" stroke-width="1.4"/><rect x="39.68" y="531.03" width="1" height="4" fill="#111"/><rect x="42.68" y="531.03" width="1" height="4" fill="#111"/>
<path d="M57.04 510.19L61.04 514.19M61.04 510.19L57.04 514.19" stroke="#111" stroke-width="1.4"/><rect x="57.04" y="510.19" width="1" height="4" fill="#111"/><rect x="60.04" y="510.19" width="1" height="4" fill="#111"/>
<path d="M83.08 526.4L87.08 530.4M87.08 526.4L83.08 530.4" stroke="#111" stroke-width="1.4"/><rect x="83.08" y="526.4" width="1" height="4" fill="#111"/><rect x="86.08" y="526.4" width="1" height="4" fill="#111"/>
<path d="M109.12 531.8L113.12 535.8M113.12 531.8L109.12 535.8" stroke="#111" stroke-width="1.4"/><rect x="109.12" y="531.8" width="1" height="4" fill="#111"/><rect x="112.12" y="531.8" width="1" height="4" fill="#111"/>
<path d="M239.32 554.58L243.32 558.58M243.32 554.58L239.32 558.58" stroke="#111" stroke-width="1.4"/><rect x="239.32" y="554.58" width="1" height="4" fill="#111"/><rect x="242.32" y="554.58" width="1" height="4" fill="#111"/>
<path d="M33 546.54V552.72M30.4 546.54H35.6M30.4 552.72H35.6" stroke="#151515" stroke-width="1.35" fill="none"/>
<path d="M41.68 525.31V540.75M39.08 525.31H44.28M39.08 540.75H44.28" stroke="#151515" stroke-width="1.35" fill="none"/>
<path d="M59.04 500.61V523.77M56.44 500.61H61.64M56.44 523.77H61.64" stroke="#151515" stroke-width="1.35" fill="none"/>
<path d="M85.08 518.75V538.05M82.48 518.75H87.68M82.48 538.05H87.68" stroke="#151515" stroke-width="1.35" fill="none"/>
<path d="M111.12 530.72V536.89M108.52 530.72H113.72M108.52 536.89H113.72" stroke="#151515" stroke-width="1.35" fill="none"/>
<path d="M241.32 551.56V561.6M238.72 551.56H243.92M238.72 561.6H243.92" stroke="#151515" stroke-width="1.35" fill="none"/>
<path d="M33 547.7L41.68 528.4L59.04 500.22L85.08 498.29L111.12 512.96L241.32 550.79" fill="none" stroke="#111" stroke-width="1.55" stroke-dasharray="3.2 1.15"/>
<circle cx="33" cy="547.7" r="2.4" fill="#111"/>
<circle cx="41.68" cy="528.4" r="2.4" fill="#111"/>
<circle cx="59.04" cy="500.22" r="2.4" fill="#111"/>
<circle cx="85.08" cy="498.29" r="2.4" fill="#111"/>
<circle cx="111.12" cy="512.96" r="2.4" fill="#111"/>
<circle cx="241.32" cy="550.79" r="2.4" fill="#111"/>
<path d="M33 543.84V551.56M30.4 543.84H35.6M30.4 551.56H35.6" stroke="#151515" stroke-width="1.35" fill="none"/>
<path d="M41.68 520.68V536.12M39.08 520.68H44.28M39.08 536.12H44.28" stroke="#151515" stroke-width="1.35" fill="none"/>
<path d="M59.04 492.5V507.94M56.44 492.5H61.64M56.44 507.94H61.64" stroke="#151515" stroke-width="1.35" fill="none"/>
<path d="M85.08 492.5V504.08M82.48 492.5H87.68M82.48 504.08H87.68" stroke="#151515" stroke-width="1.35" fill="none"/>
<path d="M111.12 509.1V516.82M108.52 509.1H113.72M108.52 516.82H113.72" stroke="#151515" stroke-width="1.35" fill="none"/>
<path d="M241.32 548.47V553.1M238.72 548.47H243.92M238.72 553.1H243.92" stroke="#151515" stroke-width="1.35" fill="none"/>
<path d="M33 545.77L41.68 521.45L59.04 479.38L85.08 458.53L111.12 491.34L241.32 544.61" fill="none" stroke="#111" stroke-width="1.5" stroke-dasharray="1.6 1.05"/>
<path d="M33 543.77L35.2 545.77L33 547.77L30.8 545.77Z" fill="#fff" stroke="#111" stroke-width="1.3" stroke-linejoin="round"/>
<path d="M41.68 519.45L43.88 521.45L41.68 523.45L39.48 521.45Z" fill="#fff" stroke="#111" stroke-width="1.3" stroke-linejoin="round"/>
<path d="M59.04 477.38L61.24 479.38L59.04 481.38L56.84 479.38Z" fill="#fff" stroke="#111" stroke-width="1.3" stroke-linejoin="round"/>
<path d="M85.08 456.53L87.28 458.53L85.08 460.53L82.88 458.53Z" fill="#fff" stroke="#111" stroke-width="1.3" stroke-linejoin="round"/>
<path d="M111.12 489.34L113.32 491.34L111.12 493.34L108.92 491.34Z" fill="#fff" stroke="#111" stroke-width="1.3" stroke-linejoin="round"/>
<path d="M241.32 542.61L243.52 544.61L241.32 546.61L239.12 544.61Z" fill="#fff" stroke="#111" stroke-width="1.3" stroke-linejoin="round"/>
<path d="M33 541.91V549.63M30.4 541.91H35.6M30.4 549.63H35.6" stroke="#151515" stroke-width="1.35" fill="none"/>
<path d="M41.68 511.8V531.1M39.08 511.8H44.28M39.08 531.1H44.28" stroke="#151515" stroke-width="1.35" fill="none"/>
<path d="M59.04 458.92V499.84M56.44 458.92H61.64M56.44 499.84H61.64" stroke="#151515" stroke-width="1.35" fill="none"/>
<path d="M85.08 440.39V476.68M82.48 440.39H87.68M82.48 476.68H87.68" stroke="#151515" stroke-width="1.35" fill="none"/>
<path d="M111.12 475.9V506.78M108.52 475.9H113.72M108.52 506.78H113.72" stroke="#151515" stroke-width="1.35" fill="none"/>
<path d="M241.32 542.68V546.54M238.72 542.68H243.92M238.72 546.54H243.92" stroke="#151515" stroke-width="1.35" fill="none"/>
<path d="M33 545.77L41.68 526.08L59.04 500.22L85.08 487.48L111.12 492.89L241.32 538.44" fill="none" stroke="#111" stroke-width="1.7" />
<circle cx="33" cy="545.77" r="2.4" fill="#111"/>
<circle cx="41.68" cy="526.08" r="2.4" fill="#111"/>
<circle cx="59.04" cy="500.22" r="2.4" fill="#111"/>
<circle cx="85.08" cy="487.48" r="2.4" fill="#111"/>
<circle cx="111.12" cy="492.89" r="2.4" fill="#111"/>
<circle cx="241.32" cy="538.44" r="2.4" fill="#111"/>
<path d="M33 541.91V549.63M30.4 541.91H35.6M30.4 549.63H35.6" stroke="#151515" stroke-width="1.35" fill="none"/>
<path d="M41.68 518.36V533.8M39.08 518.36H44.28M39.08 533.8H44.28" stroke="#151515" stroke-width="1.35" fill="none"/>
<path d="M59.04 492.5V507.94M56.44 492.5H61.64M56.44 507.94H61.64" stroke="#151515" stroke-width="1.35" fill="none"/>
<path d="M85.08 481.69V493.27M82.48 481.69H87.68M82.48 493.27H87.68" stroke="#151515" stroke-width="1.35" fill="none"/>
<path d="M111.12 481.31V504.47M108.52 481.31H113.72M108.52 504.47H113.72" stroke="#151515" stroke-width="1.35" fill="none"/>
<path d="M241.32 534.96V541.91M238.72 534.96H243.92M238.72 541.91H243.92" stroke="#151515" stroke-width="1.35" fill="none"/>
<path d="M160.6 434.4H162.6M168.8 434.4H170.6" stroke="#111" stroke-width="1.4"/>
<path d="M163.5 432.3L167.7 436.5M167.7 432.3L163.5 436.5" stroke="#111" stroke-width="1.4"/><rect x="163.5" y="432.3" width="1" height="4.2" fill="#111"/><rect x="166.7" y="432.3" width="1" height="4.2" fill="#111"/>
<text transform="translate(175.6 436.75) scale(1 1.12)" font-size="7.0" fill="#111" stroke="#111" stroke-width="0.25">0.04 mg/kg</text>
<path d="M160.6 444.6H165.6M168.8 444.6H170.6" stroke="#111" stroke-width="1.5"/>
<circle cx="165.6" cy="444.6" r="2.52" fill="#111"/>
<text transform="translate(175.6 446.95) scale(1 1.12)" font-size="7.0" fill="#111" stroke="#111" stroke-width="0.25">0.08 mg/kg</text>
<path d="M160.6 454.8H162.6M168.8 454.8H170.6" stroke="#111" stroke-width="1.4"/>
<path d="M165.6 452.7L167.91 454.8L165.6 456.9L163.29 454.8Z" fill="#fff" stroke="#111" stroke-width="1.3" stroke-linejoin="round"/>
<text transform="translate(175.6 457.15) scale(1 1.12)" font-size="7.0" fill="#111" stroke="#111" stroke-width="0.25">0.16 mg/kg</text>
<path d="M160.6 465H170.6" stroke="#111" stroke-width="1.6"/>
<circle cx="165.6" cy="465" r="2.52" fill="#111"/>
<text transform="translate(175.6 467.35) scale(1 1.12)" font-size="7.0" fill="#111" stroke="#111" stroke-width="0.25">0.24 mg/kg</text>
<path d="M294.8 434.5V567.5H509.5" fill="none" stroke="#151515" stroke-width="1.6"/>
<path d="M291.6 567.7H294.8" stroke="#151515" stroke-width="1.3"/>
<text transform="translate(290.3 570.03) scale(1 1.12)" text-anchor="end" font-size="5.8" font-weight="bold" fill="#1a1a1a">0</text>
<path d="M291.6 529.5H294.8" stroke="#151515" stroke-width="1.3"/>
<text transform="translate(290.3 531.83) scale(1 1.12)" text-anchor="end" font-size="5.8" font-weight="bold" fill="#1a1a1a">1</text>
<path d="M291.6 491.3H294.8" stroke="#151515" stroke-width="1.3"/>
<text transform="translate(290.3 493.63) scale(1 1.12)" text-anchor="end" font-size="5.8" font-weight="bold" fill="#1a1a1a">2</text>
<path d="M291.6 453.1H294.8" stroke="#151515" stroke-width="1.3"/>
<text transform="translate(290.3 455.43) scale(1 1.12)" text-anchor="end" font-size="5.8" font-weight="bold" fill="#1a1a1a">3</text>
<path d="M296.9 567.5V570.7" stroke="#151515" stroke-width="1.3"/>
<text transform="translate(297.9 576) rotate(-45) scale(1 1.12)" text-anchor="end" font-size="5.8" font-weight="bold" fill="#1a1a1a">0</text>
<path d="M301.29 567.5V570.7" stroke="#151515" stroke-width="1.3"/>
<text transform="translate(302.29 576) rotate(-45) scale(1 1.12)" text-anchor="end" font-size="5.8" font-weight="bold" fill="#1a1a1a">0.5</text>
<path d="M305.68 567.5V570.7" stroke="#151515" stroke-width="1.3"/>
<text transform="translate(306.68 576) rotate(-45) scale(1 1.12)" text-anchor="end" font-size="5.8" font-weight="bold" fill="#1a1a1a">1</text>
<path d="M314.46 567.5V570.7" stroke="#151515" stroke-width="1.3"/>
<text transform="translate(315.46 576) rotate(-45) scale(1 1.12)" text-anchor="end" font-size="5.8" font-weight="bold" fill="#1a1a1a">2</text>
<path d="M332.02 567.5V570.7" stroke="#151515" stroke-width="1.3"/>
<text transform="translate(333.02 576) rotate(-45) scale(1 1.12)" text-anchor="end" font-size="5.8" font-weight="bold" fill="#1a1a1a">4</text>
<path d="M349.58 567.5V570.7" stroke="#151515" stroke-width="1.3"/>
<text transform="translate(350.58 576) rotate(-45) scale(1 1.12)" text-anchor="end" font-size="5.8" font-weight="bold" fill="#1a1a1a">6</text>
<path d="M375.92 567.5V570.7" stroke="#151515" stroke-width="1.3"/>
<text transform="translate(376.92 576) rotate(-45) scale(1 1.12)" text-anchor="end" font-size="5.8" font-weight="bold" fill="#1a1a1a">9</text>
<path d="M402.26 567.5V570.7" stroke="#151515" stroke-width="1.3"/>
<text transform="translate(403.26 576) rotate(-45) scale(1 1.12)" text-anchor="end" font-size="5.8" font-weight="bold" fill="#1a1a1a">12</text>
<path d="M507.62 567.5V570.7" stroke="#151515" stroke-width="1.3"/>
<text transform="translate(508.62 576) rotate(-45) scale(1 1.12)" text-anchor="end" font-size="5.8" font-weight="bold" fill="#1a1a1a">24</text>
<text transform="translate(397.4 424.7) scale(0.926 1)" text-anchor="middle" font-size="8.81" font-weight="bold" fill="#111" stroke="#111" stroke-width="0.25">Absolute Monocyte Count (WHIM S/Mkx)</text>
<text transform="translate(401 593.5) scale(0.97 1.07)" text-anchor="middle" font-size="7.1" font-weight="bold" fill="#111" stroke="#111" stroke-width="0.2">Timepoint (h)</text>
<text transform="translate(283 500.8) rotate(-90) scale(0.925 1)" text-anchor="middle" font-size="7.8" font-weight="bold" fill="#111" stroke="#111" stroke-width="0.2">Cell Count (x 10<tspan font-size="4.84" dy="-3.4">6</tspan><tspan dy="3.4">/mL)</tspan></text>
<path d="M296.9 561.97L301.29 559.3L305.68 558.15L314.46 554.33L332.02 548.6L349.58 552.42L375.92 552.42L402.26 555.48L507.62 560.06" fill="none" stroke="#111" stroke-width="1.5" stroke-dasharray="1.6 1.05"/>
<path d="M294.9 559.97L298.9 563.97M298.9 559.97L294.9 563.97" stroke="#111" stroke-width="1.4"/><rect x="294.9" y="559.97" width="1" height="4" fill="#111"/><rect x="297.9" y="559.97" width="1" height="4" fill="#111"/>
<path d="M299.29 557.3L303.29 561.3M303.29 557.3L299.29 561.3" stroke="#111" stroke-width="1.4"/><rect x="299.29" y="557.3" width="1" height="4" fill="#111"/><rect x="302.29" y="557.3" width="1" height="4" fill="#111"/>
<path d="M303.68 556.15L307.68 560.15M307.68 556.15L303.68 560.15" stroke="#111" stroke-width="1.4"/><rect x="303.68" y="556.15" width="1" height="4" fill="#111"/><rect x="306.68" y="556.15" width="1" height="4" fill="#111"/>
<path d="M312.46 552.33L316.46 556.33M316.46 552.33L312.46 556.33" stroke="#111" stroke-width="1.4"/><rect x="312.46" y="552.33" width="1" height="4" fill="#111"/><rect x="315.46" y="552.33" width="1" height="4" fill="#111"/>
<path d="M330.02 546.6L334.02 550.6M334.02 546.6L330.02 550.6" stroke="#111" stroke-width="1.4"/><rect x="330.02" y="546.6" width="1" height="4" fill="#111"/><rect x="333.02" y="546.6" width="1" height="4" fill="#111"/>
<path d="M347.58 550.42L351.58 554.42M351.58 550.42L347.58 554.42" stroke="#111" stroke-width="1.4"/><rect x="347.58" y="550.42" width="1" height="4" fill="#111"/><rect x="350.58" y="550.42" width="1" height="4" fill="#111"/>
<path d="M373.92 550.42L377.92 554.42M377.92 550.42L373.92 554.42" stroke="#111" stroke-width="1.4"/><rect x="373.92" y="550.42" width="1" height="4" fill="#111"/><rect x="376.92" y="550.42" width="1" height="4" fill="#111"/>
<path d="M400.26 553.48L404.26 557.48M404.26 553.48L400.26 557.48" stroke="#111" stroke-width="1.4"/><rect x="400.26" y="553.48" width="1" height="4" fill="#111"/><rect x="403.26" y="553.48" width="1" height="4" fill="#111"/>
<path d="M505.62 558.06L509.62 562.06M509.62 558.06L505.62 562.06" stroke="#111" stroke-width="1.4"/><rect x="505.62" y="558.06" width="1" height="4" fill="#111"/><rect x="508.62" y="558.06" width="1" height="4" fill="#111"/>
<path d="M296.9 560.06V563.88M294.3 560.06H299.5M294.3 563.88H299.5" stroke="#151515" stroke-width="1.35" fill="none"/>
<path d="M301.29 557.39V561.21M298.69 557.39H303.89M298.69 561.21H303.89" stroke="#151515" stroke-width="1.35" fill="none"/>
<path d="M305.68 556.24V560.06M303.08 556.24H308.28M303.08 560.06H308.28" stroke="#151515" stroke-width="1.35" fill="none"/>
<path d="M314.46 551.27V557.39M311.86 551.27H317.06M311.86 557.39H317.06" stroke="#151515" stroke-width="1.35" fill="none"/>
<path d="M332.02 545.54V551.66M329.42 545.54H334.62M329.42 551.66H334.62" stroke="#151515" stroke-width="1.35" fill="none"/>
<path d="M349.58 550.13V554.71M346.98 550.13H352.18M346.98 554.71H352.18" stroke="#151515" stroke-width="1.35" fill="none"/>
<path d="M375.92 550.13V554.71M373.32 550.13H378.52M373.32 554.71H378.52" stroke="#151515" stroke-width="1.35" fill="none"/>
<path d="M402.26 553.57V557.39M399.66 553.57H404.86M399.66 557.39H404.86" stroke="#151515" stroke-width="1.35" fill="none"/>
<path d="M507.62 558.91V561.21M505.02 558.91H510.22M505.02 561.21H510.22" stroke="#151515" stroke-width="1.35" fill="none"/>
<path d="M296.9 561.97L301.29 558.15L305.68 557L314.46 555.09L332.02 546.69L349.58 540.96L375.92 548.6L402.26 551.27L507.62 560.06" fill="none" stroke="#111" stroke-width="1.55" stroke-dasharray="3.2 1.15"/>
<circle cx="296.9" cy="561.97" r="2.4" fill="#111"/>
<circle cx="301.29" cy="558.15" r="2.4" fill="#111"/>
<circle cx="305.68" cy="557" r="2.4" fill="#111"/>
<circle cx="314.46" cy="555.09" r="2.4" fill="#111"/>
<circle cx="332.02" cy="546.69" r="2.4" fill="#111"/>
<circle cx="349.58" cy="540.96" r="2.4" fill="#111"/>
<circle cx="375.92" cy="548.6" r="2.4" fill="#111"/>
<circle cx="402.26" cy="551.27" r="2.4" fill="#111"/>
<circle cx="507.62" cy="560.06" r="2.4" fill="#111"/>
<path d="M296.9 560.06V563.88M294.3 560.06H299.5M294.3 563.88H299.5" stroke="#151515" stroke-width="1.35" fill="none"/>
<path d="M301.29 556.24V560.06M298.69 556.24H303.89M298.69 560.06H303.89" stroke="#151515" stroke-width="1.35" fill="none"/>
<path d="M305.68 555.09V558.91M303.08 555.09H308.28M303.08 558.91H308.28" stroke="#151515" stroke-width="1.35" fill="none"/>
<path d="M314.46 551.27V558.91M311.86 551.27H317.06M311.86 558.91H317.06" stroke="#151515" stroke-width="1.35" fill="none"/>
<path d="M332.02 542.87V550.51M329.42 542.87H334.62M329.42 550.51H334.62" stroke="#151515" stroke-width="1.35" fill="none"/>
<path d="M349.58 537.14V544.78M346.98 537.14H352.18M346.98 544.78H352.18" stroke="#151515" stroke-width="1.35" fill="none"/>
<path d="M375.92 544.78V552.42M373.32 544.78H378.52M373.32 552.42H378.52" stroke="#151515" stroke-width="1.35" fill="none"/>
<path d="M402.26 548.22V554.33M399.66 548.22H404.86M399.66 554.33H404.86" stroke="#151515" stroke-width="1.35" fill="none"/>
<path d="M507.62 558.91V561.21M505.02 558.91H510.22M505.02 561.21H510.22" stroke="#151515" stroke-width="1.35" fill="none"/>
<path d="M296.9 561.97L301.29 558.15L305.68 557L314.46 552.42L332.02 544.78L349.58 537.52L375.92 540.2L402.26 540.2L507.62 559.3" fill="none" stroke="#111" stroke-width="1.5" stroke-dasharray="1.6 1.05"/>
<path d="M296.9 559.97L299.1 561.97L296.9 563.97L294.7 561.97Z" fill="#fff" stroke="#111" stroke-width="1.3" stroke-linejoin="round"/>
<path d="M301.29 556.15L303.49 558.15L301.29 560.15L299.09 558.15Z" fill="#fff" stroke="#111" stroke-width="1.3" stroke-linejoin="round"/>
<path d="M305.68 555L307.88 557L305.68 559L303.48 557Z" fill="#fff" stroke="#111" stroke-width="1.3" stroke-linejoin="round"/>
<path d="M314.46 550.42L316.66 552.42L314.46 554.42L312.26 552.42Z" fill="#fff" stroke="#111" stroke-width="1.3" stroke-linejoin="round"/>
<path d="M332.02 542.78L334.22 544.78L332.02 546.78L329.82 544.78Z" fill="#fff" stroke="#111" stroke-width="1.3" stroke-linejoin="round"/>
<path d="M349.58 535.52L351.78 537.52L349.58 539.52L347.38 537.52Z" fill="#fff" stroke="#111" stroke-width="1.3" stroke-linejoin="round"/>
<path d="M375.92 538.2L378.12 540.2L375.92 542.2L373.72 540.2Z" fill="#fff" stroke="#111" stroke-width="1.3" stroke-linejoin="round"/>
<path d="M402.26 538.2L404.46 540.2L402.26 542.2L400.06 540.2Z" fill="#fff" stroke="#111" stroke-width="1.3" stroke-linejoin="round"/>
<path d="M507.62 557.3L509.82 559.3L507.62 561.3L505.42 559.3Z" fill="#fff" stroke="#111" stroke-width="1.3" stroke-linejoin="round"/>
<path d="M296.9 560.06V563.88M294.3 560.06H299.5M294.3 563.88H299.5" stroke="#151515" stroke-width="1.35" fill="none"/>
<path d="M301.29 556.24V560.06M298.69 556.24H303.89M298.69 560.06H303.89" stroke="#151515" stroke-width="1.35" fill="none"/>
<path d="M305.68 555.09V558.91M303.08 555.09H308.28M303.08 558.91H308.28" stroke="#151515" stroke-width="1.35" fill="none"/>
<path d="M314.46 548.6V556.24M311.86 548.6H317.06M311.86 556.24H317.06" stroke="#151515" stroke-width="1.35" fill="none"/>
<path d="M332.02 540.96V548.6M329.42 540.96H334.62M329.42 548.6H334.62" stroke="#151515" stroke-width="1.35" fill="none"/>
<path d="M349.58 533.7V541.34M346.98 533.7H352.18M346.98 541.34H352.18" stroke="#151515" stroke-width="1.35" fill="none"/>
<path d="M375.92 536.38V544.02M373.32 536.38H378.52M373.32 544.02H378.52" stroke="#151515" stroke-width="1.35" fill="none"/>
<path d="M402.26 536.38V544.02M399.66 536.38H404.86M399.66 544.02H404.86" stroke="#151515" stroke-width="1.35" fill="none"/>
<path d="M507.62 558.15V560.44M505.02 558.15H510.22M505.02 560.44H510.22" stroke="#151515" stroke-width="1.35" fill="none"/>
<path d="M296.9 561.21L301.29 557.39L305.68 556.24L314.46 550.13L332.02 541.72L349.58 534.08L375.92 529.5L402.26 526.44L507.62 554.33" fill="none" stroke="#111" stroke-width="1.7" />
<circle cx="296.9" cy="561.21" r="2.4" fill="#111"/>
<circle cx="301.29" cy="557.39" r="2.4" fill="#111"/>
<circle cx="305.68" cy="556.24" r="2.4" fill="#111"/>
<circle cx="314.46" cy="550.13" r="2.4" fill="#111"/>
<circle cx="332.02" cy="541.72" r="2.4" fill="#111"/>
<circle cx="349.58" cy="534.08" r="2.4" fill="#111"/>
<circle cx="375.92" cy="529.5" r="2.4" fill="#111"/>
<circle cx="402.26" cy="526.44" r="2.4" fill="#111"/>
<circle cx="507.62" cy="554.33" r="2.4" fill="#111"/>
<path d="M296.9 559.3V563.12M294.3 559.3H299.5M294.3 563.12H299.5" stroke="#151515" stroke-width="1.35" fill="none"/>
<path d="M301.29 555.48V559.3M298.69 555.48H303.89M298.69 559.3H303.89" stroke="#151515" stroke-width="1.35" fill="none"/>
<path d="M305.68 554.33V558.15M303.08 554.33H308.28M303.08 558.15H308.28" stroke="#151515" stroke-width="1.35" fill="none"/>
<path d="M314.46 544.4V555.86M311.86 544.4H317.06M311.86 555.86H317.06" stroke="#151515" stroke-width="1.35" fill="none"/>
<path d="M332.02 535.99V547.45M329.42 535.99H334.62M329.42 547.45H334.62" stroke="#151515" stroke-width="1.35" fill="none"/>
<path d="M349.58 528.35V539.81M346.98 528.35H352.18M346.98 539.81H352.18" stroke="#151515" stroke-width="1.35" fill="none"/>
<path d="M375.92 523.77V535.23M373.32 523.77H378.52M373.32 535.23H378.52" stroke="#151515" stroke-width="1.35" fill="none"/>
<path d="M402.26 521.86V531.03M399.66 521.86H404.86M399.66 531.03H404.86" stroke="#151515" stroke-width="1.35" fill="none"/>
<path d="M507.62 551.27V557.39M505.02 551.27H510.22M505.02 557.39H510.22" stroke="#151515" stroke-width="1.35" fill="none"/>
<path d="M296.9 561.97L301.29 558.15L305.68 557L314.46 553.95L332.02 544.78L349.58 534.85L375.92 529.5L402.26 528.74L507.62 552.42" fill="none" stroke="#111" stroke-width="1.7" />
<rect x="294.8" y="559.87" width="4.2" height="4.2" fill="#111"/>
<rect x="299.19" y="556.05" width="4.2" height="4.2" fill="#111"/>
<rect x="303.58" y="554.9" width="4.2" height="4.2" fill="#111"/>
<rect x="312.36" y="551.85" width="4.2" height="4.2" fill="#111"/>
<rect x="329.92" y="542.68" width="4.2" height="4.2" fill="#111"/>
<rect x="347.48" y="532.75" width="4.2" height="4.2" fill="#111"/>
<rect x="373.82" y="527.4" width="4.2" height="4.2" fill="#111"/>
<rect x="400.16" y="526.64" width="4.2" height="4.2" fill="#111"/>
<rect x="505.52" y="550.32" width="4.2" height="4.2" fill="#111"/>
<path d="M296.9 560.06V563.88M294.3 560.06H299.5M294.3 563.88H299.5" stroke="#151515" stroke-width="1.35" fill="none"/>
<path d="M301.29 556.24V560.06M298.69 556.24H303.89M298.69 560.06H303.89" stroke="#151515" stroke-width="1.35" fill="none"/>
<path d="M305.68 555.09V558.91M303.08 555.09H308.28M303.08 558.91H308.28" stroke="#151515" stroke-width="1.35" fill="none"/>
<path d="M314.46 543.25V564.64M311.86 543.25H317.06M311.86 564.64H317.06" stroke="#151515" stroke-width="1.35" fill="none"/>
<path d="M332.02 540.96V548.6M329.42 540.96H334.62M329.42 548.6H334.62" stroke="#151515" stroke-width="1.35" fill="none"/>
<path d="M349.58 527.21V542.49M346.98 527.21H352.18M346.98 542.49H352.18" stroke="#151515" stroke-width="1.35" fill="none"/>
<path d="M375.92 523.77V535.23M373.32 523.77H378.52M373.32 535.23H378.52" stroke="#151515" stroke-width="1.35" fill="none"/>
<path d="M402.26 523.01V534.47M399.66 523.01H404.86M399.66 534.47H404.86" stroke="#151515" stroke-width="1.35" fill="none"/>
<path d="M507.62 546.69V558.15M505.02 546.69H510.22M505.02 558.15H510.22" stroke="#151515" stroke-width="1.35" fill="none"/>
<path d="M460 438.75H462M467.6 438.75H469.4" stroke="#111" stroke-width="1.4"/>
<path d="M462.6 436.65L466.8 440.85M466.8 436.65L462.6 440.85" stroke="#111" stroke-width="1.4"/><rect x="462.6" y="436.65" width="1" height="4.2" fill="#111"/><rect x="465.8" y="436.65" width="1" height="4.2" fill="#111"/>
<text transform="translate(475 441.1) scale(1 1.12)" font-size="7.0" fill="#111" stroke="#111" stroke-width="0.25">0.02 mg/kg</text>
<path d="M460 448.7H464.7M467.6 448.7H469.4" stroke="#111" stroke-width="1.5"/>
<circle cx="464.7" cy="448.7" r="2.52" fill="#111"/>
<text transform="translate(475 451.05) scale(1 1.12)" font-size="7.0" fill="#111" stroke="#111" stroke-width="0.25">0.04 mg/kg</text>
<path d="M460 458.65H462M467.6 458.65H469.4" stroke="#111" stroke-width="1.4"/>
<path d="M464.7 456.55L467.01 458.65L464.7 460.75L462.39 458.65Z" fill="#fff" stroke="#111" stroke-width="1.3" stroke-linejoin="round"/>
<text transform="translate(475 461) scale(1 1.12)" font-size="7.0" fill="#111" stroke="#111" stroke-width="0.25">0.08 mg/kg</text>
<path d="M460 468.6H469.4" stroke="#111" stroke-width="1.6"/>
<circle cx="464.7" cy="468.6" r="2.52" fill="#111"/>
<text transform="translate(475 470.95) scale(1 1.12)" font-size="7.0" fill="#111" stroke="#111" stroke-width="0.25">0.16 mg/kg</text>
<path d="M460 478.55H469.4" stroke="#111" stroke-width="1.6"/>
<rect x="462.5" y="476.35" width="4.41" height="4.41" fill="#111"/>
<text transform="translate(475 480.9) scale(1 1.12)" font-size="7.0" fill="#111" stroke="#111" stroke-width="0.25">0.24 mg/kg</text>
</svg>
</body></html>
